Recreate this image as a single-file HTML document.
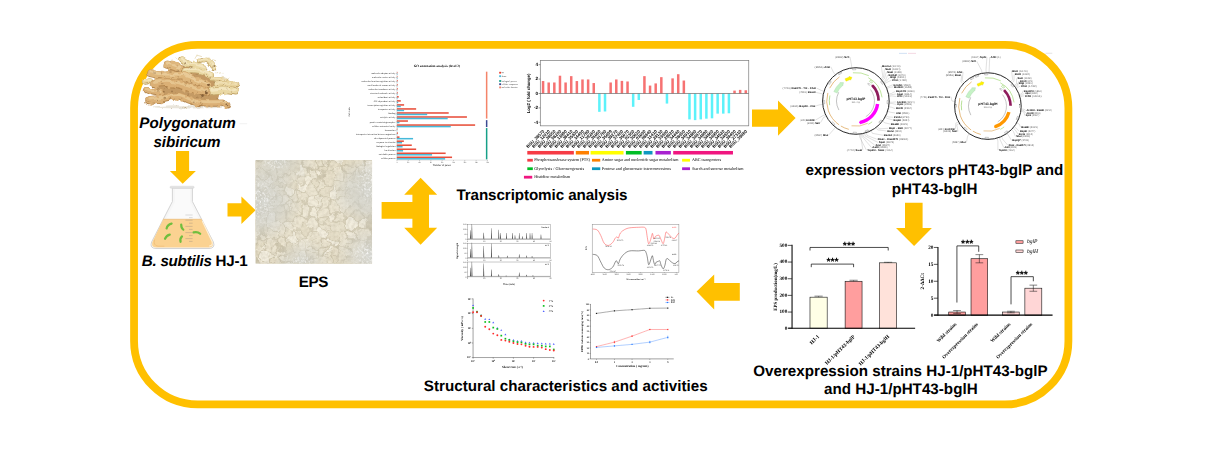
<!DOCTYPE html>
<html lang="en"><head><meta charset="utf-8"><title>Graphical abstract</title>
<style>
html,body{margin:0;padding:0;background:#fff;overflow:hidden}
svg{display:block}
.lb{font-family:"Liberation Sans",sans-serif;font-weight:bold;fill:#000}
.se{font-family:"Liberation Serif",serif;fill:#000}
.sa{font-family:"Liberation Sans",sans-serif;fill:#000}
</style></head>
<body>
<svg width="1217" height="468" viewBox="0 0 1217 468" text-rendering="geometricPrecision">
<!-- defs -->
<defs>
<filter id="b3" x="-5%" y="-5%" width="110%" height="110%"><feGaussianBlur stdDeviation="0.3"/></filter>
<filter id="b4" x="-5%" y="-5%" width="110%" height="110%"><feGaussianBlur stdDeviation="0.4"/></filter>
<filter id="b5" x="-5%" y="-5%" width="110%" height="110%"><feGaussianBlur stdDeviation="0.5"/></filter>
</defs>
<!-- frame -->
<rect x="134.05" y="44.85" width="934.35" height="359.55" rx="63.5" ry="63.5" fill="none" stroke="#FFC000" stroke-width="7.8"/>
<!-- arrows -->
<path d="M176 150.9H189.1V171H195.9L182.7 183.8L169.9 171H176Z" fill="#FFC000"/>
<path d="M227.5 203.2H241.4V196.5L255.6 210.3L241.4 224.1V216.6H227.5Z" fill="#FFC000"/>
<path d="M381.6 202H412.4V194.8H404.2L420.6 177.7L437.2 194.8H429V227.8H437.2L420.6 244.7L404.2 227.8H412.4V218.7H381.6Z" fill="#FFC000"/>
<path d="M752 109.4H778V100.6L795.6 118.1L778 135.8V126.7H752Z" fill="#FFC000"/>
<path d="M905 202.8H922.6V228H931.9L914.1 245.9L896 228H905Z" fill="#FFC000"/>
<path d="M739.8 283H714.2V274.4L696.6 291.5L714.2 309.5V300.8H739.8Z" fill="#FFC000"/>
<!-- labels -->
<text class="lb" font-style="italic" font-size="15.20" x="139.30" y="128.30" textLength="96.40" lengthAdjust="spacing">Polygonatum</text>
<text class="lb" font-style="italic" font-size="15.20" x="153.40" y="146.70" textLength="67.20" lengthAdjust="spacing">sibiricum</text>
<text class="lb" font-size="15.20" x="141.70" y="266.00" textLength="106.10" lengthAdjust="spacing"><tspan font-style="italic">B. subtilis</tspan> HJ-1</text>
<text class="lb" font-size="15.20" x="298.70" y="287.10" textLength="29.80" lengthAdjust="spacing">EPS</text>
<text class="lb" font-size="15.20" x="456.40" y="199.50" textLength="171.10" lengthAdjust="spacing">Transcriptomic analysis</text>
<text class="lb" font-size="15.20" x="805.50" y="175.30" textLength="257.80" lengthAdjust="spacing">expression vectors pHT43-bglP and</text>
<text class="lb" font-size="15.20" x="891.70" y="193.50" textLength="85.80" lengthAdjust="spacing">pHT43-bglH</text>
<text class="lb" font-size="15.20" x="753.20" y="376.20" textLength="294.50" lengthAdjust="spacing">Overexpression strains HJ-1/pHT43-bglP</text>
<text class="lb" font-size="15.20" x="824.00" y="394.30" textLength="153.60" lengthAdjust="spacing">and HJ-1/pHT43-bglH</text>
<text class="lb" font-size="15.20" x="423.80" y="390.60" textLength="283.80" lengthAdjust="spacing">Structural characteristics and activities</text>
<!-- rhizome -->
<defs>
<filter id="rzn" x="-5%" y="-5%" width="110%" height="110%" color-interpolation-filters="sRGB">
<feTurbulence type="fractalNoise" baseFrequency="0.3" numOctaves="3" seed="2" result="n"/>
<feColorMatrix in="n" type="matrix" values="0 0 0 0 0.52  0 0 0 0 0.37  0 0 0 0 0.2  3.0 0 0 0 -2.0" result="sp"/>
<feTurbulence type="fractalNoise" baseFrequency="0.09" numOctaves="2" seed="8" result="t"/><feDisplacementMap in="SourceGraphic" in2="t" scale="5" xChannelSelector="R" yChannelSelector="G" result="dm"/><feGaussianBlur in="dm" stdDeviation="0.7" result="bl"/>
<feComposite in="sp" in2="bl" operator="in" result="spc"/>
<feMerge><feMergeNode in="bl"/><feMergeNode in="spc"/></feMerge>
</filter>
</defs>
<g filter="url(#rzn)" stroke-linecap="round" stroke-linejoin="round" fill="none">
<ellipse cx="190.0" cy="106.8" rx="38" ry="1.6" fill="#E4DED2" opacity="0.8"/>
<path d="M155.4 77.6L168.2 71.2L178.4 66.1L193.8 66.1L206.6 71.2L214.3 80.2L219.4 90.4L216.9 100.7L191.3 100.7L172.0 96.8L155.4 93.0Z" fill="#C49A64" stroke="#C49A64" stroke-width="1"/>
<path d="M195.1 58.4L197.0 55.2" stroke="#DCCB9C" stroke-width="0.6"/>
<path d="M197.0 55.2L201.5 56.5" stroke="#DCCB9C" stroke-width="0.6"/>
<path d="M178.4 59.7L176.5 57.8" stroke="#DCCB9C" stroke-width="0.6"/>
<path d="M204.1 59.7L207.9 57.8" stroke="#DCCB9C" stroke-width="0.6"/>
<path d="M216.9 73.8L222.0 72.5" stroke="#DCCB9C" stroke-width="0.6"/>
<path d="M222.0 76.3L227.1 77.6" stroke="#DCCB9C" stroke-width="0.6"/>
<path d="M183.6 105.8L185.5 108.4" stroke="#DCCB9C" stroke-width="0.6"/>
<path d="M145.1 84.0L143.2 79.5" stroke="#DCCB9C" stroke-width="0.6"/>
<path d="M228.4 80.8L229.7 77.6" stroke="#DCCB9C" stroke-width="0.6"/>
<path d="M172.0 59.7L170.1 62.3" stroke="#DCCB9C" stroke-width="0.6"/>
<path d="M211.8 59.7L215.6 61.0" stroke="#DCCB9C" stroke-width="0.6"/>
<path d="M167.5 64.8C168.5 65.0 171.3 65.5 173.3 66.1C175.3 66.7 178.7 68.2 179.7 68.7" stroke="#B88A52" stroke-width="8.1"/>
<path d="M167.5 64.8C168.5 65.0 171.3 65.5 173.3 66.1C175.3 66.7 178.7 68.2 179.7 68.7" stroke="#DEB67C" stroke-width="7.2" transform="translate(0,-0.45)"/>
<path d="M167.5 64.8C168.5 65.0 171.3 65.5 173.3 66.1C175.3 66.7 178.7 68.2 179.7 68.7" stroke="#EBCF9E" stroke-width="3.1" transform="translate(0,-1.6)" stroke-opacity="0.8"/>
<circle cx="169.5" cy="68.5" r="1.8" fill="#DEB67C" stroke="none"/>
<circle cx="172.6" cy="62.4" r="1.8" fill="#DEB67C" stroke="none"/>
<circle cx="175.2" cy="63.3" r="1.8" fill="#DEB67C" stroke="none"/>
<circle cx="177.3" cy="64.6" r="1.8" fill="#DEB67C" stroke="none"/>
<path d="M182.3 59.9C183.1 60.5 185.3 62.6 187.4 63.5C189.5 64.5 192.3 64.7 195.1 65.5C197.9 66.2 202.6 67.6 204.1 68.0" stroke="#C2A468" stroke-width="6.9"/>
<path d="M182.3 59.9C183.1 60.5 185.3 62.6 187.4 63.5C189.5 64.5 192.3 64.7 195.1 65.5C197.9 66.2 202.6 67.6 204.1 68.0" stroke="#EAD8A4" stroke-width="6.0" transform="translate(0,-0.45)"/>
<path d="M182.3 59.9C183.1 60.5 185.3 62.6 187.4 63.5C189.5 64.5 192.3 64.7 195.1 65.5C197.9 66.2 202.6 67.6 204.1 68.0" stroke="#F5E9C4" stroke-width="2.6" transform="translate(0,-1.4)" stroke-opacity="0.8"/>
<circle cx="184.3" cy="63.7" r="1.5" fill="#EAD8A4" stroke="none"/>
<circle cx="186.2" cy="65.5" r="1.5" fill="#EAD8A4" stroke="none"/>
<circle cx="188.4" cy="61.1" r="1.5" fill="#EAD8A4" stroke="none"/>
<circle cx="193.0" cy="62.1" r="1.5" fill="#EAD8A4" stroke="none"/>
<circle cx="198.2" cy="63.2" r="1.5" fill="#EAD8A4" stroke="none"/>
<circle cx="201.1" cy="70.3" r="1.5" fill="#EAD8A4" stroke="none"/>
<path d="M198.9 61.2C200.2 61.0 204.5 59.3 206.6 59.9C208.7 60.5 210.3 63.1 211.5 64.8C212.7 66.5 213.6 69.1 214.1 69.9" stroke="#C2A468" stroke-width="4.1"/>
<path d="M198.9 61.2C200.2 61.0 204.5 59.3 206.6 59.9C208.7 60.5 210.3 63.1 211.5 64.8C212.7 66.5 213.6 69.1 214.1 69.9" stroke="#EAD8A4" stroke-width="3.2" transform="translate(0,-0.45)"/>
<path d="M198.9 61.2C200.2 61.0 204.5 59.3 206.6 59.9C208.7 60.5 210.3 63.1 211.5 64.8C212.7 66.5 213.6 69.1 214.1 69.9" stroke="#F5E9C4" stroke-width="1.5" transform="translate(0,-0.8)" stroke-opacity="0.8"/>
<circle cx="200.1" cy="59.2" r="0.9" fill="#EAD8A4" stroke="none"/>
<circle cx="204.0" cy="62.0" r="0.9" fill="#EAD8A4" stroke="none"/>
<circle cx="208.8" cy="59.5" r="0.9" fill="#EAD8A4" stroke="none"/>
<circle cx="209.7" cy="61.9" r="0.9" fill="#EAD8A4" stroke="none"/>
<circle cx="213.1" cy="64.4" r="0.9" fill="#EAD8A4" stroke="none"/>
<circle cx="214.2" cy="67.0" r="0.9" fill="#EAD8A4" stroke="none"/>
<path d="M186.1 71.2C187.6 71.2 192.1 70.9 195.1 71.2C198.1 71.5 201.3 72.3 204.1 73.1C206.8 74.0 210.5 75.8 211.8 76.3" stroke="#C2A468" stroke-width="6.3"/>
<path d="M186.1 71.2C187.6 71.2 192.1 70.9 195.1 71.2C198.1 71.5 201.3 72.3 204.1 73.1C206.8 74.0 210.5 75.8 211.8 76.3" stroke="#EAD8A4" stroke-width="5.4" transform="translate(0,-0.45)"/>
<path d="M186.1 71.2C187.6 71.2 192.1 70.9 195.1 71.2C198.1 71.5 201.3 72.3 204.1 73.1C206.8 74.0 210.5 75.8 211.8 76.3" stroke="#F5E9C4" stroke-width="2.4" transform="translate(0,-1.3)" stroke-opacity="0.8"/>
<circle cx="188.0" cy="73.8" r="1.4" fill="#EAD8A4" stroke="none"/>
<circle cx="192.9" cy="68.6" r="1.4" fill="#EAD8A4" stroke="none"/>
<circle cx="196.7" cy="69.1" r="1.4" fill="#EAD8A4" stroke="none"/>
<circle cx="202.8" cy="70.0" r="1.4" fill="#EAD8A4" stroke="none"/>
<circle cx="205.6" cy="76.6" r="1.4" fill="#EAD8A4" stroke="none"/>
<circle cx="209.7" cy="78.2" r="1.4" fill="#EAD8A4" stroke="none"/>
<path d="M210.5 78.9C212.0 79.0 216.7 79.3 219.4 79.5C222.2 79.8 225.9 80.3 227.1 80.4" stroke="#BE9E62" stroke-width="4.4"/>
<path d="M210.5 78.9C212.0 79.0 216.7 79.3 219.4 79.5C222.2 79.8 225.9 80.3 227.1 80.4" stroke="#E7D29C" stroke-width="3.5" transform="translate(0,-0.45)"/>
<path d="M210.5 78.9C212.0 79.0 216.7 79.3 219.4 79.5C222.2 79.8 225.9 80.3 227.1 80.4" stroke="#F2E2B8" stroke-width="1.7" transform="translate(0,-0.9)" stroke-opacity="0.8"/>
<circle cx="212.2" cy="77.2" r="1.0" fill="#E7D29C" stroke="none"/>
<circle cx="216.8" cy="81.2" r="1.0" fill="#E7D29C" stroke="none"/>
<circle cx="221.6" cy="77.9" r="1.0" fill="#E7D29C" stroke="none"/>
<circle cx="224.3" cy="82.1" r="1.0" fill="#E7D29C" stroke="none"/>
<path d="M216.9 84.0C218.6 83.9 223.9 83.3 227.1 83.5C230.4 83.7 234.8 85.0 236.4 85.3" stroke="#BE9E62" stroke-width="5.9"/>
<path d="M216.9 84.0C218.6 83.9 223.9 83.3 227.1 83.5C230.4 83.7 234.8 85.0 236.4 85.3" stroke="#E7D29C" stroke-width="5.0" transform="translate(0,-0.45)"/>
<path d="M216.9 84.0C218.6 83.9 223.9 83.3 227.1 83.5C230.4 83.7 234.8 85.0 236.4 85.3" stroke="#F2E2B8" stroke-width="2.3" transform="translate(0,-1.2)" stroke-opacity="0.8"/>
<circle cx="220.1" cy="86.4" r="1.3" fill="#E7D29C" stroke="none"/>
<circle cx="225.0" cy="86.1" r="1.3" fill="#E7D29C" stroke="none"/>
<circle cx="229.4" cy="81.5" r="1.3" fill="#E7D29C" stroke="none"/>
<circle cx="233.2" cy="82.4" r="1.3" fill="#E7D29C" stroke="none"/>
<path d="M145.4 82.2L150.5 81.0" stroke="#C2A468" stroke-width="5.0"/>
<path d="M145.4 82.2L150.5 81.0" stroke="#EAD8A4" stroke-width="4.1" transform="translate(0,-0.45)"/>
<path d="M145.4 82.2L150.5 81.0" stroke="#F5E9C4" stroke-width="1.9" transform="translate(0,-1.0)" stroke-opacity="0.8"/>
<circle cx="147.6" cy="79.8" r="1.1" fill="#EAD8A4" stroke="none"/>
<circle cx="149.9" cy="83.4" r="1.1" fill="#EAD8A4" stroke="none"/>
<path d="M150.0 73.3C151.5 73.6 155.5 74.7 159.2 75.1C162.9 75.5 168.2 75.6 172.0 75.7C175.9 75.8 179.1 75.3 182.3 75.8C185.5 76.4 188.3 77.8 191.3 78.9C194.2 80.1 197.6 81.7 200.2 82.8C202.8 83.8 205.8 84.9 206.9 85.3" stroke="#B88A52" stroke-width="7.5"/>
<path d="M150.0 73.3C151.5 73.6 155.5 74.7 159.2 75.1C162.9 75.5 168.2 75.6 172.0 75.7C175.9 75.8 179.1 75.3 182.3 75.8C185.5 76.4 188.3 77.8 191.3 78.9C194.2 80.1 197.6 81.7 200.2 82.8C202.8 83.8 205.8 84.9 206.9 85.3" stroke="#DEB67C" stroke-width="6.6" transform="translate(0,-0.45)"/>
<path d="M150.0 73.3C151.5 73.6 155.5 74.7 159.2 75.1C162.9 75.5 168.2 75.6 172.0 75.7C175.9 75.8 179.1 75.3 182.3 75.8C185.5 76.4 188.3 77.8 191.3 78.9C194.2 80.1 197.6 81.7 200.2 82.8C202.8 83.8 205.8 84.9 206.9 85.3" stroke="#EBCF9E" stroke-width="2.9" transform="translate(0,-1.5)" stroke-opacity="0.8"/>
<circle cx="152.4" cy="70.6" r="1.7" fill="#DEB67C" stroke="none"/>
<circle cx="156.6" cy="77.8" r="1.7" fill="#DEB67C" stroke="none"/>
<circle cx="162.3" cy="72.1" r="1.7" fill="#DEB67C" stroke="none"/>
<circle cx="169.1" cy="72.4" r="1.7" fill="#DEB67C" stroke="none"/>
<circle cx="173.8" cy="72.6" r="1.7" fill="#DEB67C" stroke="none"/>
<circle cx="180.6" cy="72.7" r="1.7" fill="#DEB67C" stroke="none"/>
<circle cx="184.2" cy="79.8" r="1.7" fill="#DEB67C" stroke="none"/>
<circle cx="189.8" cy="81.3" r="1.7" fill="#DEB67C" stroke="none"/>
<circle cx="194.0" cy="83.0" r="1.7" fill="#DEB67C" stroke="none"/>
<circle cx="198.2" cy="78.6" r="1.7" fill="#DEB67C" stroke="none"/>
<circle cx="202.6" cy="86.5" r="1.7" fill="#DEB67C" stroke="none"/>
<circle cx="205.1" cy="81.5" r="1.7" fill="#DEB67C" stroke="none"/>
<path d="M211.8 90.7C213.7 90.6 219.5 89.8 223.3 89.9C227.1 90.1 232.7 91.4 234.6 91.7" stroke="#C2A468" stroke-width="7.5"/>
<path d="M211.8 90.7C213.7 90.6 219.5 89.8 223.3 89.9C227.1 90.1 232.7 91.4 234.6 91.7" stroke="#EAD8A4" stroke-width="6.6" transform="translate(0,-0.45)"/>
<path d="M211.8 90.7C213.7 90.6 219.5 89.8 223.3 89.9C227.1 90.1 232.7 91.4 234.6 91.7" stroke="#F5E9C4" stroke-width="2.9" transform="translate(0,-1.5)" stroke-opacity="0.8"/>
<circle cx="214.1" cy="87.4" r="1.7" fill="#EAD8A4" stroke="none"/>
<circle cx="221.2" cy="93.3" r="1.7" fill="#EAD8A4" stroke="none"/>
<circle cx="225.7" cy="93.5" r="1.7" fill="#EAD8A4" stroke="none"/>
<circle cx="231.4" cy="88.1" r="1.7" fill="#EAD8A4" stroke="none"/>
<path d="M154.4 84.0C156.2 83.8 161.8 82.9 165.6 82.9C169.4 82.9 173.5 83.3 177.2 84.0C180.8 84.8 184.0 86.2 187.4 87.2C190.8 88.3 194.5 89.6 197.7 90.4C200.8 91.3 204.9 92.2 206.4 92.5" stroke="#B2844C" stroke-width="8.1"/>
<path d="M154.4 84.0C156.2 83.8 161.8 82.9 165.6 82.9C169.4 82.9 173.5 83.3 177.2 84.0C180.8 84.8 184.0 86.2 187.4 87.2C190.8 88.3 194.5 89.6 197.7 90.4C200.8 91.3 204.9 92.2 206.4 92.5" stroke="#DBB076" stroke-width="7.2" transform="translate(0,-0.45)"/>
<path d="M154.4 84.0C156.2 83.8 161.8 82.9 165.6 82.9C169.4 82.9 173.5 83.3 177.2 84.0C180.8 84.8 184.0 86.2 187.4 87.2C190.8 88.3 194.5 89.6 197.7 90.4C200.8 91.3 204.9 92.2 206.4 92.5" stroke="#E9CA96" stroke-width="3.1" transform="translate(0,-1.6)" stroke-opacity="0.8"/>
<circle cx="156.8" cy="87.2" r="1.8" fill="#DBB076" stroke="none"/>
<circle cx="163.1" cy="79.8" r="1.8" fill="#DBB076" stroke="none"/>
<circle cx="169.5" cy="86.6" r="1.8" fill="#DBB076" stroke="none"/>
<circle cx="174.7" cy="80.3" r="1.8" fill="#DBB076" stroke="none"/>
<circle cx="180.7" cy="81.4" r="1.8" fill="#DBB076" stroke="none"/>
<circle cx="183.9" cy="89.9" r="1.8" fill="#DBB076" stroke="none"/>
<circle cx="190.6" cy="91.5" r="1.8" fill="#DBB076" stroke="none"/>
<circle cx="195.4" cy="93.1" r="1.8" fill="#DBB076" stroke="none"/>
<circle cx="199.0" cy="87.5" r="1.8" fill="#DBB076" stroke="none"/>
<circle cx="204.8" cy="88.6" r="1.8" fill="#DBB076" stroke="none"/>
<path d="M146.2 90.4C147.3 90.8 150.4 91.9 152.8 92.4C155.2 92.8 159.2 92.9 160.5 93.0" stroke="#B2844C" stroke-width="6.6"/>
<path d="M146.2 90.4C147.3 90.8 150.4 91.9 152.8 92.4C155.2 92.8 159.2 92.9 160.5 93.0" stroke="#DBB076" stroke-width="5.7" transform="translate(0,-0.45)"/>
<path d="M146.2 90.4C147.3 90.8 150.4 91.9 152.8 92.4C155.2 92.8 159.2 92.9 160.5 93.0" stroke="#E9CA96" stroke-width="2.5" transform="translate(0,-1.3)" stroke-opacity="0.8"/>
<circle cx="148.5" cy="93.7" r="1.4" fill="#DBB076" stroke="none"/>
<circle cx="152.1" cy="89.1" r="1.4" fill="#DBB076" stroke="none"/>
<circle cx="155.0" cy="89.8" r="1.4" fill="#DBB076" stroke="none"/>
<circle cx="157.8" cy="95.6" r="1.4" fill="#DBB076" stroke="none"/>
<path d="M148.7 100.7C150.5 100.5 155.5 100.1 159.2 99.4C162.9 98.8 167.3 97.4 170.8 96.8C174.2 96.3 176.7 95.8 179.7 96.3C182.7 96.9 185.7 99.0 188.7 100.1C191.7 101.1 194.2 102.1 197.7 102.6C201.1 103.1 205.1 103.1 209.2 103.3C213.3 103.4 219.1 103.0 222.0 103.3C225.0 103.6 226.1 104.8 226.9 105.0" stroke="#B2844C" stroke-width="6.9"/>
<path d="M148.7 100.7C150.5 100.5 155.5 100.1 159.2 99.4C162.9 98.8 167.3 97.4 170.8 96.8C174.2 96.3 176.7 95.8 179.7 96.3C182.7 96.9 185.7 99.0 188.7 100.1C191.7 101.1 194.2 102.1 197.7 102.6C201.1 103.1 205.1 103.1 209.2 103.3C213.3 103.4 219.1 103.0 222.0 103.3C225.0 103.6 226.1 104.8 226.9 105.0" stroke="#DBB076" stroke-width="6.0" transform="translate(0,-0.45)"/>
<path d="M148.7 100.7C150.5 100.5 155.5 100.1 159.2 99.4C162.9 98.8 167.3 97.4 170.8 96.8C174.2 96.3 176.7 95.8 179.7 96.3C182.7 96.9 185.7 99.0 188.7 100.1C191.7 101.1 194.2 102.1 197.7 102.6C201.1 103.1 205.1 103.1 209.2 103.3C213.3 103.4 219.1 103.0 222.0 103.3C225.0 103.6 226.1 104.8 226.9 105.0" stroke="#E9CA96" stroke-width="2.6" transform="translate(0,-1.4)" stroke-opacity="0.8"/>
<circle cx="151.1" cy="103.3" r="1.5" fill="#DBB076" stroke="none"/>
<circle cx="157.3" cy="96.8" r="1.5" fill="#DBB076" stroke="none"/>
<circle cx="161.4" cy="101.7" r="1.5" fill="#DBB076" stroke="none"/>
<circle cx="168.8" cy="94.6" r="1.5" fill="#DBB076" stroke="none"/>
<circle cx="173.9" cy="99.6" r="1.5" fill="#DBB076" stroke="none"/>
<circle cx="177.4" cy="99.4" r="1.5" fill="#DBB076" stroke="none"/>
<circle cx="181.9" cy="100.2" r="1.5" fill="#DBB076" stroke="none"/>
<circle cx="185.7" cy="96.2" r="1.5" fill="#DBB076" stroke="none"/>
<circle cx="191.2" cy="97.8" r="1.5" fill="#DBB076" stroke="none"/>
<circle cx="196.2" cy="104.9" r="1.5" fill="#DBB076" stroke="none"/>
<circle cx="199.7" cy="99.9" r="1.5" fill="#DBB076" stroke="none"/>
<circle cx="206.3" cy="106.0" r="1.5" fill="#DBB076" stroke="none"/>
<circle cx="211.5" cy="106.1" r="1.5" fill="#DBB076" stroke="none"/>
<circle cx="219.2" cy="106.1" r="1.5" fill="#DBB076" stroke="none"/>
<circle cx="223.7" cy="100.8" r="1.5" fill="#DBB076" stroke="none"/>
<circle cx="225.8" cy="107.5" r="1.5" fill="#DBB076" stroke="none"/>
<circle cx="207.5" cy="85.7" r="1.4" fill="#6A4726" fill-opacity="0.8" stroke="none"/>
<circle cx="206.4" cy="93.0" r="1.4" fill="#6A4726" fill-opacity="0.8" stroke="none"/>
<circle cx="202.5" cy="96.6" r="1.3" fill="#6A4726" fill-opacity="0.7" stroke="none"/>
<circle cx="213.3" cy="67.1" r="1.0" fill="#6A4726" fill-opacity="0.6" stroke="none"/>
<circle cx="185.1" cy="62.5" r="0.9" fill="#6A4726" fill-opacity="0.5" stroke="none"/>
<circle cx="227.4" cy="105.3" r="1.0" fill="#6A4726" fill-opacity="0.6" stroke="none"/>
<circle cx="190.6" cy="68.7" r="0.9" fill="#6A4726" fill-opacity="0.45" stroke="none"/>
<circle cx="172.0" cy="90.4" r="0.9" fill="#6A4726" fill-opacity="0.4" stroke="none"/>
<circle cx="161.8" cy="84.7" r="0.6" fill="#6A4726" fill-opacity="0.4" stroke="none"/>
<circle cx="193.8" cy="101.3" r="0.8" fill="#6A4726" fill-opacity="0.4" stroke="none"/>
<circle cx="154.1" cy="73.1" r="0.8" fill="#6A4726" fill-opacity="0.4" stroke="none"/>
</g>
<rect x="239.6" y="123.3" width="7.6" height="0.9" fill="#EFEFEF"/>
<!-- flask -->
<g>
<path d="M172.4 188 L172.4 201.5 L151.6 242 Q149.3 248.4 156 248.5 L209 248.5 Q215.6 248.4 213.4 242 L192.4 201.5 L192.4 188 Z" fill="#F6F6F6" stroke="#CFCFCF" stroke-width="0.9" stroke-linejoin="round"/>
<path d="M175 189 L175 202 L166 219 L199 219 L190 202 L190 189 Z" fill="#FAFAFA"/>
<path d="M163.2 219.3 L201.6 219.3 L212.6 242.1 Q214.3 247.5 209 247.6 L156 247.6 Q150.7 247.5 152.4 242.1 Z" fill="#FBD291"/>
<path d="M163.2 219.3 L201.6 219.3" stroke="#EDBE78" stroke-width="0.8"/>
<path d="M202.5 221.5 L212 241.5 Q213.3 245.5 209.5 246" fill="none" stroke="#FFF0D6" stroke-width="1.1" stroke-linecap="round"/>
<path d="M154.5 240 Q153 245.5 158 246.2 L164 246.2" fill="none" stroke="#F2C27E" stroke-width="1" stroke-linecap="round"/>
<rect x="170" y="186.2" width="24.2" height="2.1" rx="1" fill="#E2E2E2" stroke="#D2D2D2" stroke-width="0.4"/>
<line x1="185.4" y1="215.0" x2="192.6" y2="215.0" stroke="#D2D2D2" stroke-width="0.8"/>
<line x1="189.0" y1="217.6" x2="192.6" y2="217.6" stroke="#D2D2D2" stroke-width="0.8"/>
<line x1="185.4" y1="220.2" x2="192.6" y2="220.2" stroke="#CDB088" stroke-width="0.8"/>
<line x1="189.0" y1="223.2" x2="192.6" y2="223.2" stroke="#CDB088" stroke-width="0.8"/>
<line x1="185.4" y1="226.4" x2="192.6" y2="226.4" stroke="#CDB088" stroke-width="0.8"/>
<line x1="189.0" y1="229.4" x2="192.6" y2="229.4" stroke="#CDB088" stroke-width="0.8"/>
<line x1="185.4" y1="232.6" x2="192.6" y2="232.6" stroke="#CDB088" stroke-width="0.8"/>
<line x1="189.0" y1="235.6" x2="192.6" y2="235.6" stroke="#CDB088" stroke-width="0.8"/>
<line x1="185.4" y1="238.6" x2="192.6" y2="238.6" stroke="#CDB088" stroke-width="0.8"/>
<line x1="189.0" y1="241.4" x2="192.6" y2="241.4" stroke="#CDB088" stroke-width="0.8"/>
<path d="M166.6 228.4 Q167.5 224.6 171.6 223.6" fill="none" stroke="#70BE3E" stroke-width="2.2" stroke-linecap="round"/>
<path d="M181.2 224.6 Q181.2 228.4 183.3 229.6" fill="none" stroke="#70BE3E" stroke-width="2.2" stroke-linecap="round"/>
<path d="M193.6 232.4 Q197.6 231.4 200.2 233.8" fill="none" stroke="#70BE3E" stroke-width="2.2" stroke-linecap="round"/>
<path d="M165 238.8 Q166.6 235.2 169.8 234.6" fill="none" stroke="#70BE3E" stroke-width="2.2" stroke-linecap="round"/>
<path d="M180.6 241.8 Q179.6 238.6 182 236.4" fill="none" stroke="#70BE3E" stroke-width="2.2" stroke-linecap="round"/>
</g>
<!-- eps -->
<defs>
<filter id="epsn" x="0" y="0" width="100%" height="100%" color-interpolation-filters="sRGB">
<feTurbulence type="fractalNoise" baseFrequency="0.35" numOctaves="2" seed="4" result="n"/>
<feColorMatrix in="n" type="matrix" values="0 0 0 0 0.45  0 0 0 0 0.40  0 0 0 0 0.30  1.6 0 0 0 -0.62"/>
</filter>
<filter id="epsn2" x="0" y="0" width="100%" height="100%" color-interpolation-filters="sRGB">
<feTurbulence type="fractalNoise" baseFrequency="0.45" numOctaves="2" seed="9" result="n"/>
<feColorMatrix in="n" type="matrix" values="0 0 0 0 1  0 0 0 0 1  0 0 0 0 1  3.4 0 0 0 -1.6"/>
</filter>
<filter id="epsb" x="-2%" y="-2%" width="104%" height="104%" color-interpolation-filters="sRGB"><feTurbulence type="fractalNoise" baseFrequency="0.12" numOctaves="2" seed="3" result="t"/><feDisplacementMap in="SourceGraphic" in2="t" scale="9" xChannelSelector="R" yChannelSelector="G" result="d"/><feGaussianBlur in="d" stdDeviation="0.5"/></filter>
<radialGradient id="epsL" cx="0" cy="0.42" r="0.4"><stop offset="0" stop-color="#CDCFCB" stop-opacity="0.8"/><stop offset="0.55" stop-color="#CDCFCB" stop-opacity="0.55"/><stop offset="1" stop-color="#CDCFCB" stop-opacity="0"/></radialGradient>
<radialGradient id="epsR" cx="1" cy="0.3" r="0.36"><stop offset="0" stop-color="#D0D2CE" stop-opacity="0.8"/><stop offset="0.55" stop-color="#D0D2CE" stop-opacity="0.55"/><stop offset="1" stop-color="#D0D2CE" stop-opacity="0"/></radialGradient>
<radialGradient id="epsB" cx="0.4" cy="1" r="0.25"><stop offset="0" stop-color="#CFD0CA" stop-opacity="0.8"/><stop offset="1" stop-color="#CFD0CA" stop-opacity="0"/></radialGradient>
<radialGradient id="epsT" cx="0.2" cy="0" r="0.3"><stop offset="0" stop-color="#CDCEC7" stop-opacity="0.8"/><stop offset="1" stop-color="#CDCEC7" stop-opacity="0"/></radialGradient>
<radialGradient id="epsBR" cx="1" cy="0.92" r="0.32"><stop offset="0" stop-color="#D4D6D3" stop-opacity="0.9"/><stop offset="1" stop-color="#D4D6D3" stop-opacity="0"/></radialGradient>
<radialGradient id="epsC" cx="0.5" cy="0.5" r="0.55"><stop offset="0" stop-color="#EFEAD9" stop-opacity="0.25"/><stop offset="0.6" stop-color="#EFEAD9" stop-opacity="0.15"/><stop offset="1" stop-color="#EFEAD9" stop-opacity="0"/></radialGradient>
<radialGradient id="epsW"><stop offset="0" stop-color="#fff"/><stop offset="0.5" stop-color="#999"/><stop offset="1" stop-color="#000"/></radialGradient>
<clipPath id="epsc"><rect x="255.4" y="159.9" width="116.7" height="103.9"/></clipPath>
</defs>
<g clip-path="url(#epsc)">
<rect x="255.4" y="159.9" width="116.7" height="103.9" fill="#D0C8B0"/>
<g filter="url(#epsb)">
<path d="M275.1 192.6L276.0 192.7L279.7 197.2L276.3 199.0L275.0 197.6Z" fill="#E4DCC5"/>
<path d="M364.1 175.7L367.5 171.9L369.1 173.1L365.2 182.0Z" fill="#EEE8D6"/>
<path d="M276.5 256.6L276.1 253.4L268.9 252.0L267.8 252.4L269.5 259.1Z" fill="#EEE8D6"/>
<path d="M317.7 223.3L316.7 220.6L309.3 219.1L306.1 219.5L305.4 221.3L309.9 229.5L313.4 231.0L317.4 230.8L318.2 227.1Z" fill="#EEE8D6"/>
<path d="M328.1 265.7L328.8 266.5L331.9 264.6L331.0 257.8L331.0 257.5L327.0 257.5Z" fill="#EAE3CF"/>
<path d="M346.0 228.7L351.9 230.7L357.3 239.4L350.3 240.0L344.7 229.9Z" fill="#F1EBDA"/>
<path d="M313.3 179.9L317.2 178.7L317.6 178.2L316.9 187.3L312.8 181.4Z" fill="#E7DFC9"/>
<path d="M266.9 220.3L269.5 215.9L273.6 212.9L274.4 213.3L276.7 219.0L267.5 221.3Z" fill="#F3EEDF"/>
<path d="M257.1 240.6L261.0 232.2L259.9 231.8L253.8 233.6L251.4 237.7L251.5 238.9L256.9 240.7Z" fill="#EEE8D6"/>
<path d="M339.9 250.0L348.0 255.6L349.0 255.4L349.9 250.4L345.9 246.2L340.5 245.4L339.8 247.8Z" fill="#EAE3CF"/>
<path d="M309.6 176.2L308.5 170.8L305.1 166.4L304.7 176.7L305.7 176.7Z" fill="#ECE5D1"/>
<path d="M268.2 229.4L266.2 234.1L262.3 231.7L261.8 231.0L261.1 228.8L265.6 224.3L268.2 226.5Z" fill="#E4DCC5"/>
<path d="M285.5 184.8L285.7 184.6L286.4 184.1L284.5 177.2L280.2 175.3L278.2 179.7L279.1 180.2Z" fill="#EEE8D6"/>
<path d="M296.7 189.5L297.0 189.7L306.1 191.3L306.4 186.6L304.9 184.3L296.4 183.3Z" fill="#F3EEDF"/>
<path d="M284.2 204.9L282.7 203.4L282.9 198.5L286.9 195.9L288.1 196.1L290.8 199.2L287.1 202.8Z" fill="#F1EBDA"/>
<path d="M332.1 221.2L330.8 222.7L327.7 218.1L327.3 217.3L332.6 213.9L334.8 213.6Z" fill="#F1EBDA"/>
<path d="M330.1 225.8L326.7 224.1L328.0 218.9L330.6 223.1Z" fill="#E7DFC9"/>
<path d="M282.3 263.7L287.9 259.6L287.1 254.2L287.1 254.3L279.4 257.4L279.9 258.6Z" fill="#EEE8D6"/>
<path d="M285.0 236.5L278.1 236.2L278.3 230.6L278.5 227.3L280.9 223.5L283.2 223.4L284.8 226.1Z" fill="#EBE4D0"/>
<path d="M284.7 210.2L275.5 212.0L274.9 211.7L272.8 208.0L274.7 206.6L281.3 204.7L283.3 206.3Z" fill="#E7DFC9"/>
<path d="M286.1 187.1L286.1 186.3L294.9 189.4L288.3 194.6L287.7 194.1L285.3 190.5L285.3 189.4Z" fill="#F3EEDF"/>
<path d="M265.1 196.3L261.9 197.9L261.4 196.8L261.5 190.0L267.5 189.2L267.4 195.0Z" fill="#E4DCC5"/>
<path d="M268.9 238.2L267.4 239.2L267.5 240.2L265.7 251.3L267.9 252.0L268.8 251.5L275.2 243.6L274.3 239.4Z" fill="#EBE4D0"/>
<path d="M373.8 169.9L375.1 164.9L377.7 164.8L378.9 169.1Z" fill="#EBE4D0"/>
<path d="M268.3 176.2L274.1 180.6L276.5 178.1L278.1 174.8L276.8 169.1L268.7 172.6Z" fill="#EBE4D0"/>
<path d="M249.0 228.7L252.4 233.0L250.7 236.7L246.2 234.9L248.9 229.2Z" fill="#EAE3CF"/>
<path d="M271.5 195.9L274.0 191.3L275.0 192.4L274.0 197.9L271.3 197.8Z" fill="#F3EEDF"/>
<path d="M342.5 170.4L340.6 166.6L334.5 172.7L335.4 179.9L342.0 179.9Z" fill="#ECE5D1"/>
<path d="M350.1 192.0L348.8 190.5L352.6 189.1L354.4 190.2L352.3 193.3Z" fill="#EBE4D0"/>
<path d="M322.5 208.0L327.9 207.1L328.7 200.3L328.0 199.1L323.5 198.0L322.1 207.0Z" fill="#ECE5D1"/>
<path d="M310.4 207.0L308.2 199.0L310.5 196.5L314.3 195.5L318.2 205.9L314.9 207.5Z" fill="#F1EBDA"/>
<path d="M340.1 211.9L336.8 200.6L330.5 201.6L328.6 207.8L333.0 212.2L335.6 212.2Z" fill="#EAE3CF"/>
<path d="M284.6 186.3L278.7 181.2L280.9 186.8L283.9 188.0Z" fill="#E7DFC9"/>
<path d="M353.4 160.0L355.6 167.6L356.5 167.7L356.7 167.3L362.5 164.9L360.4 158.5L352.8 156.2Z" fill="#E7DFC9"/>
<path d="M369.4 260.9L373.2 252.9L373.5 253.5L375.5 254.6L377.2 260.9L372.7 263.3Z" fill="#F1EBDA"/>
<path d="M307.9 257.8L314.3 258.8L316.3 257.8L317.2 255.7L316.9 254.7L306.4 250.4L305.9 250.7L307.2 256.3Z" fill="#ECE5D1"/>
<path d="M299.5 200.8L298.7 191.4L305.3 192.5L309.4 196.5L307.3 198.8L302.4 200.5Z" fill="#EBE4D0"/>
<path d="M357.0 266.0L360.5 267.9L362.6 259.2L362.2 256.5L351.8 256.7L353.2 263.0Z" fill="#EAE3CF"/>
<path d="M321.1 206.1L318.6 204.4L315.6 196.6L317.8 194.8L322.3 197.8Z" fill="#EEE8D6"/>
<path d="M353.3 262.8L352.0 258.2L350.4 257.5L349.2 257.7L345.1 262.0L344.9 267.6L351.0 266.5Z" fill="#E4DCC5"/>
<path d="M261.6 208.5L263.7 206.8L261.0 198.7L260.4 197.9L257.8 198.3L253.2 201.3L249.8 206.6L258.1 211.6Z" fill="#E4DCC5"/>
<path d="M265.8 220.8L258.9 214.5L254.0 221.2L260.3 228.6L259.9 229.0L266.3 222.4L266.0 221.8Z" fill="#EAE3CF"/>
<path d="M276.6 192.5L280.5 197.5L282.4 197.5L286.7 195.3L284.0 190.7Z" fill="#E7DFC9"/>
<path d="M376.0 200.7L376.9 200.4L377.8 197.3L378.6 194.4L376.3 192.5L372.9 195.2L371.4 198.4L372.7 198.9Z" fill="#EEE8D6"/>
<path d="M329.3 199.1L336.8 198.2L337.4 197.9L336.6 191.1L332.4 185.9L332.9 186.2L328.6 198.5Z" fill="#F3EEDF"/>
<path d="M360.2 177.8L360.9 184.6L354.6 182.2L356.4 176.8Z" fill="#E4DCC5"/>
<path d="M337.1 245.9L339.1 244.4L338.5 242.6L328.1 238.4L327.7 239.2L330.1 245.9L331.9 246.7Z" fill="#F3EEDF"/>
<path d="M368.7 261.7L362.7 258.7L362.5 256.8L365.4 248.8L372.7 252.0Z" fill="#E7DFC9"/>
<path d="M358.4 219.2L350.1 216.7L360.1 211.3L361.1 212.0L362.2 217.4Z" fill="#E4DCC5"/>
<path d="M289.7 157.2L287.8 159.7L287.0 161.8L289.1 163.1L300.0 164.8L302.4 163.0L303.9 158.9Z" fill="#E7DFC9"/>
<path d="M318.0 166.1L312.4 156.0L321.4 158.9L323.3 165.9Z" fill="#E8E1CC"/>
<path d="M360.5 185.1L360.8 185.1L360.7 187.7L354.9 188.8L353.3 188.1L353.3 182.5L354.6 183.2Z" fill="#EBE4D0"/>
<path d="M251.5 177.2L250.6 183.6L253.4 187.7L256.6 186.0Z" fill="#EEE8D6"/>
<path d="M294.7 203.2L291.5 210.3L299.1 214.3Z" fill="#EBE4D0"/>
<path d="M277.8 180.7L277.2 179.3L274.3 181.3L272.2 187.1L272.6 187.0L280.0 187.0Z" fill="#E4DCC5"/>
<path d="M356.6 265.8L352.3 267.3L351.4 267.8L353.9 263.9Z" fill="#EEE8D6"/>
<path d="M340.1 230.9L338.6 241.0L327.3 237.3L330.2 232.3L331.8 230.9Z" fill="#E4DCC5"/>
<path d="M316.9 166.7L311.1 156.8L309.2 155.4L306.2 159.6L304.9 163.7L305.9 164.7L310.0 169.3L314.9 168.6L315.6 169.2Z" fill="#EBE4D0"/>
<path d="M318.2 255.7L322.6 255.8L323.9 256.2L326.7 257.0L326.9 266.4L323.6 266.2L316.7 258.4Z" fill="#EBE4D0"/>
<path d="M373.1 208.4L372.7 207.7L372.1 200.0L375.7 202.5L374.1 207.2L372.7 208.4Z" fill="#EBE4D0"/>
<path d="M265.7 235.8L262.1 233.6L259.3 240.0L262.3 240.2L267.3 238.4L267.8 237.8Z" fill="#EBE4D0"/>
<path d="M361.2 240.8L360.5 239.5L353.6 230.8L360.0 227.9L365.2 227.1L371.5 234.4L363.8 241.2Z" fill="#EAE3CF"/>
<path d="M292.5 243.0L288.7 242.6L287.1 250.8L287.5 253.0L288.4 252.3L291.4 251.8L293.7 247.8Z" fill="#E4DCC5"/>
<path d="M260.7 246.8L260.6 246.6L265.0 251.5L260.9 254.1L254.8 248.8L257.8 246.1Z" fill="#EAE3CF"/>
<path d="M294.8 203.0L299.5 212.6L299.8 213.8L301.7 202.3L298.7 201.9L294.8 202.7Z" fill="#EAE3CF"/>
<path d="M318.2 217.7L318.5 212.6L314.6 208.7L311.3 208.4L309.8 217.8L316.4 218.5Z" fill="#F1EBDA"/>
<path d="M375.4 163.7L371.7 160.2L376.8 156.9L383.9 160.2L377.9 164.5Z" fill="#E7DFC9"/>
<path d="M294.4 200.4L291.5 198.7L289.6 195.4L295.4 191.2L296.7 190.7L297.0 190.8L297.8 200.2Z" fill="#EAE3CF"/>
<path d="M360.5 178.7L360.8 177.1L363.6 176.3L364.4 183.0L363.9 184.0L362.5 184.6L361.3 184.3Z" fill="#E7DFC9"/>
<path d="M258.1 241.3L261.6 240.7L260.7 246.4L258.3 245.9L257.1 241.7Z" fill="#E7DFC9"/>
<path d="M306.4 249.3L306.2 249.0L311.5 246.2L311.0 246.1L316.9 251.2L316.8 253.8Z" fill="#EEE8D6"/>
<path d="M362.4 165.5L363.1 165.7L366.5 170.5L362.8 173.8L361.4 174.7L358.3 168.2Z" fill="#E7DFC9"/>
<path d="M312.1 245.1L316.9 250.6L319.9 246.4L318.9 242.5L314.4 244.0Z" fill="#E8E1CC"/>
<path d="M299.2 228.6L305.5 221.6L309.2 229.9L306.3 235.0Z" fill="#E4DCC5"/>
<path d="M360.5 269.0L360.5 269.7L353.3 273.1L353.1 268.9Z" fill="#F3EEDF"/>
<path d="M320.7 242.9L320.8 245.5L328.4 246.2L328.7 246.3L326.5 239.7L321.0 240.5Z" fill="#ECE5D1"/>
<path d="M306.1 257.2L297.8 256.0L296.4 253.6L299.9 250.9L304.4 250.3Z" fill="#F3EEDF"/>
<path d="M355.5 176.8L353.7 173.5L352.7 175.7L350.4 180.0L352.3 180.5L353.5 181.5Z" fill="#E4DCC5"/>
<path d="M251.8 191.7L257.3 197.9L252.4 200.3L248.9 192.2Z" fill="#ECE5D1"/>
<path d="M277.5 230.9L277.1 237.0L275.1 239.1L268.9 237.8L266.9 234.8L269.0 230.0Z" fill="#ECE5D1"/>
<path d="M311.9 178.8L310.0 176.9L305.9 178.2L304.6 183.6L306.8 185.6L311.9 181.9Z" fill="#F1EBDA"/>
<path d="M339.2 250.1L348.6 257.0L343.9 261.5L339.8 259.9L337.4 256.1Z" fill="#E7DFC9"/>
<path d="M286.5 185.6L295.7 189.4L296.2 188.6L296.1 182.9L295.6 183.0L294.0 182.0L287.5 184.3Z" fill="#E4DCC5"/>
<path d="M298.7 240.7L293.1 243.0L294.5 247.8L298.2 243.5L299.6 240.0Z" fill="#EAE3CF"/>
<path d="M372.3 194.3L366.7 186.1L377.4 184.1L376.4 191.2Z" fill="#EBE4D0"/>
<path d="M372.8 209.3L371.9 212.4L372.2 215.9L377.1 212.2L373.0 209.4Z" fill="#E4DCC5"/>
<path d="M306.0 258.0L301.8 263.5L298.9 258.8L298.6 256.6L305.5 256.9Z" fill="#EEE8D6"/>
<path d="M372.4 209.0L371.2 212.8L361.3 210.4L360.9 210.2L361.6 207.5L364.3 205.1L371.8 209.0Z" fill="#EBE4D0"/>
<path d="M293.1 233.1L295.7 232.6L297.3 229.5L289.0 221.5L285.9 221.0L283.3 222.6L286.0 226.4Z" fill="#EEE8D6"/>
<path d="M258.8 188.0L260.1 189.9L259.7 196.8L257.3 196.3L253.3 190.4L254.8 189.0L257.5 188.3Z" fill="#F1EBDA"/>
<path d="M321.3 208.5L319.5 211.5L315.5 207.4L319.0 206.5L321.2 207.5Z" fill="#EEE8D6"/>
<path d="M334.7 153.6L333.4 160.2L341.1 165.2L342.1 164.3L342.6 159.8L343.2 155.8L339.6 148.7Z" fill="#F3EEDF"/>
<path d="M370.5 213.3L362.3 211.8L364.8 217.6L366.3 218.5L371.2 215.7L371.5 215.8Z" fill="#E4DCC5"/>
<path d="M376.9 201.6L377.2 201.4L385.4 204.2L378.3 207.6L375.3 208.0Z" fill="#E7DFC9"/>
<path d="M348.4 181.9L349.1 180.9L351.6 181.7L352.8 188.1L348.3 189.8L346.2 189.1L345.8 187.8L346.0 182.4Z" fill="#EEE8D6"/>
<path d="M342.7 166.0L342.8 166.5L344.4 169.6L346.0 171.3L351.6 173.8L353.0 171.8L354.5 167.7L354.3 167.1L342.9 165.9Z" fill="#E7DFC9"/>
<path d="M338.6 197.3L338.0 191.2L345.5 189.3L345.6 190.6L343.0 196.4Z" fill="#EAE3CF"/>
<path d="M346.5 181.9L345.9 188.0L336.6 190.2L332.3 185.2L335.2 181.1L342.7 180.6Z" fill="#E8E1CC"/>
<path d="M352.0 198.3L353.6 195.9L352.9 194.5L350.3 192.9L348.3 198.2Z" fill="#E4DCC5"/>
<path d="M300.4 267.0L291.9 263.7L291.1 262.2L298.1 259.0L301.4 264.5Z" fill="#E4DCC5"/>
<path d="M276.4 199.7L279.7 198.4L281.8 199.3L281.3 203.6L275.1 205.9Z" fill="#EEE8D6"/>
<path d="M278.4 259.4L277.8 257.9L276.8 257.4L270.0 259.9L269.9 261.9L276.2 262.2Z" fill="#E7DFC9"/>
<path d="M289.5 221.2L297.9 228.8L299.4 228.2L304.3 221.3L305.3 220.1L300.9 215.7Z" fill="#EBE4D0"/>
<path d="M254.7 172.8L251.5 173.5L244.1 171.2L255.0 159.6L260.1 161.2L259.9 168.5Z" fill="#E7DFC9"/>
<path d="M311.3 245.0L305.9 248.7L302.1 240.7L307.7 238.6L308.8 238.3Z" fill="#F1EBDA"/>
<path d="M345.9 223.7L345.9 226.8L352.4 229.3L358.0 225.9L357.3 220.8L348.3 217.7L346.1 218.6Z" fill="#F3EEDF"/>
<path d="M285.7 212.8L284.6 211.5L276.9 213.5L279.1 218.9L281.2 221.6L283.2 221.5L284.8 219.8Z" fill="#E7DFC9"/>
<path d="M257.0 242.0L251.0 239.6L248.4 244.2L251.6 248.7L254.7 248.7L257.9 245.7Z" fill="#E4DCC5"/>
<path d="M286.9 252.8L286.3 251.8L278.6 248.2L276.2 252.8L277.5 256.8L278.9 256.5Z" fill="#ECE5D1"/>
<path d="M255.1 249.1L260.6 254.0L258.8 257.6L256.9 257.7L253.5 257.8L250.5 254.4L252.0 249.4Z" fill="#E4DCC5"/>
<path d="M352.9 193.3L354.5 190.2L361.0 188.1L361.0 193.2L358.5 195.4L353.8 195.9Z" fill="#E4DCC5"/>
<path d="M265.0 196.9L270.1 199.3L270.7 197.6L270.9 196.8L267.3 194.9Z" fill="#E7DFC9"/>
<path d="M278.3 227.2L281.1 222.6L278.2 219.6L266.1 221.8L266.6 222.9L269.4 226.6Z" fill="#F1EBDA"/>
<path d="M361.9 257.1L352.2 256.8L350.1 256.2L350.8 250.3L360.8 241.7L363.7 242.1L364.7 248.2Z" fill="#ECE5D1"/>
<path d="M325.5 223.2L319.5 222.8L317.9 220.0L319.8 218.8L326.4 217.4L326.7 218.6Z" fill="#E8E1CC"/>
<path d="M371.6 198.9L370.5 198.6L367.8 199.3L365.1 204.9L371.7 207.6Z" fill="#ECE5D1"/>
<path d="M259.3 231.4L254.1 232.9L249.9 228.0L258.9 228.4L259.5 228.8Z" fill="#ECE5D1"/>
<path d="M317.9 254.8L321.7 253.9L327.0 247.8L319.9 247.6L318.4 250.8L318.3 253.4Z" fill="#EAE3CF"/>
<path d="M286.8 237.2L292.9 233.5L286.0 227.4L286.1 236.5Z" fill="#E8E1CC"/>
<path d="M359.8 177.7L360.4 176.9L356.5 167.6L356.5 167.7L353.9 172.7L357.0 176.9Z" fill="#E8E1CC"/>
<path d="M257.4 258.3L261.9 270.7L266.2 264.3L259.1 257.9Z" fill="#F1EBDA"/>
<path d="M326.8 215.9L331.7 213.0L327.5 208.4L322.1 208.4L320.2 212.8L319.3 216.9Z" fill="#ECE5D1"/>
<path d="M309.2 237.8L311.9 232.9L309.6 231.5L307.0 234.7L308.6 238.0L308.5 237.5Z" fill="#EAE3CF"/>
<path d="M332.5 257.3L332.7 265.0L332.5 265.1L338.3 260.0L337.2 256.5Z" fill="#E4DCC5"/>
<path d="M286.1 159.0L286.2 161.7L277.7 166.6L268.4 154.5L270.5 148.4L286.0 159.8Z" fill="#ECE5D1"/>
<path d="M323.8 173.9L321.8 176.7L318.8 176.8L318.1 176.1L316.8 170.7L316.8 170.1Z" fill="#F1EBDA"/>
<path d="M364.0 186.2L366.2 186.1L371.8 194.5L370.5 197.5L367.7 198.4L362.3 192.9L361.7 188.5L362.5 186.3Z" fill="#EEE8D6"/>
<path d="M306.4 259.6L303.0 264.4L302.1 267.1L303.7 269.4L311.6 264.0L313.1 259.6Z" fill="#E4DCC5"/>
<path d="M297.3 182.5L304.1 183.4L305.2 178.0L304.3 177.7L299.6 177.2L297.2 181.9Z" fill="#EAE3CF"/>
<path d="M332.5 160.8L331.5 160.8L329.3 163.1L326.6 167.6L328.2 170.0L334.0 171.3L340.8 166.1L340.6 165.2Z" fill="#E7DFC9"/>
<path d="M317.1 258.4L322.9 265.7L317.6 273.4L313.1 264.4L315.2 259.1Z" fill="#ECE5D1"/>
<path d="M373.2 209.4L377.3 212.4L378.4 212.2L378.3 208.5L374.7 208.2Z" fill="#EBE4D0"/>
<path d="M346.4 216.6L348.8 216.5L359.6 210.1L359.7 207.8L357.2 206.2L352.9 204.4L348.0 208.7L346.6 210.4L344.0 213.5Z" fill="#E7DFC9"/>
<path d="M309.5 238.3L312.8 232.6L317.2 231.8L318.0 237.5L315.5 237.9Z" fill="#EAE3CF"/>
<path d="M277.8 247.2L275.5 253.0L269.7 251.2L275.3 244.1Z" fill="#EAE3CF"/>
<path d="M331.8 185.5L332.6 184.5L334.8 181.1L333.4 172.2L327.9 170.6L325.5 173.5L322.8 177.9L326.6 184.7Z" fill="#E7DFC9"/>
<path d="M347.8 181.4L349.3 181.2L351.9 174.5L345.8 172.6Z" fill="#EAE3CF"/>
<path d="M347.3 206.8L353.5 203.2L351.7 199.1L348.2 198.3L347.6 198.6Z" fill="#EBE4D0"/>
<path d="M280.3 267.1L279.1 271.3L268.5 263.4L269.9 262.4L275.8 263.4Z" fill="#EBE4D0"/>
<path d="M304.6 177.4L299.7 176.7L297.9 172.4L300.5 165.0L303.3 163.5L304.6 165.4Z" fill="#F3EEDF"/>
<path d="M299.5 239.3L296.7 233.4L298.4 231.5L299.8 230.7L305.1 234.9L306.9 237.8L301.8 240.0L299.6 239.4Z" fill="#EAE3CF"/>
<path d="M293.7 203.1L290.6 208.9L290.0 208.7L288.8 203.8L291.0 200.6L293.6 202.8Z" fill="#EEE8D6"/>
<path d="M297.6 256.0L298.4 258.9L290.9 262.2L288.4 260.2L287.8 253.0L291.2 252.2L295.6 252.9Z" fill="#E7DFC9"/>
<path d="M312.0 182.1L316.7 188.9L317.9 193.2L318.1 193.7L314.2 195.6L310.4 196.5L306.0 192.0L306.6 186.5Z" fill="#EAE3CF"/>
<path d="M325.0 185.5L321.2 179.4L319.4 179.4L317.4 188.7L318.8 191.8Z" fill="#ECE5D1"/>
<path d="M268.7 261.5L269.0 259.2L267.9 253.1L266.0 252.1L265.1 252.4L261.8 254.3L259.9 257.3L266.4 263.7L267.8 263.3Z" fill="#F3EEDF"/>
<path d="M286.2 162.4L288.5 163.6L289.8 172.5L288.3 174.2L284.4 175.0L279.7 173.9L277.9 168.3L278.2 167.8Z" fill="#ECE5D1"/>
<path d="M261.5 180.8L259.1 186.5L261.5 189.1L268.3 188.1L270.0 187.4L264.3 180.0Z" fill="#F1EBDA"/>
<path d="M286.7 184.2L285.0 176.8L289.2 175.5L294.1 181.5Z" fill="#EAE3CF"/>
<path d="M344.3 262.0L339.6 260.1L332.9 265.3L343.4 269.7L344.5 268.2Z" fill="#E4DCC5"/>
<path d="M327.0 156.2L330.3 159.9L328.7 161.7L325.2 157.8Z" fill="#ECE5D1"/>
<path d="M328.8 232.6L326.7 237.4L326.6 238.3L320.0 238.8L317.9 237.4L317.5 231.1L319.2 227.9Z" fill="#F3EEDF"/>
<path d="M326.4 170.4L326.2 167.8L323.9 167.4L318.8 166.9L317.3 169.7L324.3 172.5Z" fill="#E4DCC5"/>
<path d="M343.9 222.6L333.5 221.1L336.4 214.2L340.7 213.7L342.6 214.6L344.5 218.1Z" fill="#EAE3CF"/>
<path d="M342.5 214.7L346.1 209.4L345.8 197.6L343.6 197.0L338.6 198.4L338.1 198.8L341.2 212.7Z" fill="#EEE8D6"/>
<path d="M329.4 227.0L331.5 230.7L329.4 231.3L320.2 227.8L318.9 224.2L326.5 224.8Z" fill="#EAE3CF"/>
<path d="M323.0 196.1L318.9 193.5L319.5 193.2L326.0 186.3L331.0 186.6L328.1 198.6Z" fill="#E7DFC9"/>
<path d="M294.9 181.3L289.0 175.4L290.7 173.5L298.0 172.8L298.7 176.9L296.5 181.7Z" fill="#EAE3CF"/>
<path d="M327.0 257.3L330.1 256.0L330.0 252.3L324.7 255.8Z" fill="#EAE3CF"/>
<path d="M288.5 210.1L288.0 205.0L284.2 206.5L285.3 209.0L287.2 210.4Z" fill="#ECE5D1"/>
<path d="M275.0 191.5L276.2 191.6L284.4 189.8L283.5 188.6L280.4 188.0L272.9 187.7L274.7 190.5Z" fill="#EBE4D0"/>
<path d="M287.6 237.3L288.7 241.4L293.2 242.3L298.3 239.6L295.3 233.1L293.2 233.9Z" fill="#F3EEDF"/>
<path d="M269.1 215.2L262.9 209.4L265.2 208.1L269.4 206.9L272.3 208.6L273.3 212.2Z" fill="#E8E1CC"/>
<path d="M249.0 228.4L259.4 228.9L254.4 220.3L245.9 223.3L248.7 227.4Z" fill="#EAE3CF"/>
<path d="M286.3 239.0L287.5 242.1L286.2 248.9L279.6 246.5L276.4 242.6L276.3 240.4L278.7 238.2L284.8 238.1Z" fill="#EAE3CF"/>
<path d="M288.5 163.6L290.9 173.4L298.1 171.7L300.4 165.2Z" fill="#E4DCC5"/>
<path d="M324.3 158.0L322.7 158.7L324.9 165.6L326.1 166.8L328.3 163.1Z" fill="#EBE4D0"/>
<path d="M352.2 249.5L347.6 244.7L351.2 242.6L358.3 241.8L359.5 241.5Z" fill="#E7DFC9"/>
<path d="M334.7 152.4L327.1 154.7L326.0 155.4L331.1 160.3L332.2 159.4Z" fill="#F1EBDA"/>
<path d="M265.4 198.0L261.3 198.4L264.0 205.9L269.7 205.8L270.0 200.1Z" fill="#F3EEDF"/>
<path d="M347.8 180.1L345.2 173.1L343.8 171.3L343.5 180.0L346.5 181.2Z" fill="#E7DFC9"/>
<path d="M312.3 178.7L317.3 177.3L315.4 170.6L309.9 171.2L309.9 176.9Z" fill="#EEE8D6"/>
<path d="M338.3 249.9L337.1 255.6L332.0 256.0L331.2 255.7L331.4 251.8L332.0 247.7L337.5 247.6Z" fill="#E7DFC9"/>
<path d="M313.4 243.7L319.0 242.5L319.7 239.8L318.3 237.3L315.6 238.3Z" fill="#E8E1CC"/>
<path d="M266.9 176.8L273.8 181.2L271.0 186.3L270.6 186.7L265.0 180.5Z" fill="#F3EEDF"/>
<path d="M344.9 223.9L344.6 227.3L343.0 229.0L340.6 230.4L332.5 230.4L330.5 226.9L330.1 223.6L332.0 222.4Z" fill="#E8E1CC"/>
<path d="M342.1 164.6L356.1 166.7L353.4 160.8L342.9 160.2Z" fill="#E4DCC5"/>
<path d="M267.6 194.2L268.9 187.9L271.2 187.3L271.8 187.3L272.5 188.2L274.2 190.9L270.9 196.3Z" fill="#EEE8D6"/>
<path d="M261.6 241.5L267.4 239.3L266.9 239.5L261.1 246.7L260.7 246.1Z" fill="#E4DCC5"/>
<path d="M373.8 169.3L370.5 172.4L369.7 172.5L368.0 170.9L364.1 165.0L368.5 161.2L369.5 160.4L371.6 160.8L374.7 164.8Z" fill="#F1EBDA"/>
<path d="M366.0 182.9L370.0 173.8L370.0 174.4L377.8 181.9L376.9 183.0L366.3 185.0L365.4 184.7Z" fill="#EAE3CF"/>
<path d="M345.7 197.5L344.6 196.8L346.7 191.0L348.2 190.8L349.2 193.3L347.7 197.2L347.8 197.1Z" fill="#E7DFC9"/>
<path d="M265.6 251.3L261.9 247.5L266.6 241.7L265.0 250.6Z" fill="#EEE8D6"/>
<path d="M351.9 199.2L354.5 203.1L357.3 203.6L358.3 196.2L354.1 196.1Z" fill="#E8E1CC"/>
<path d="M277.7 230.2L270.2 229.2L270.6 226.4L277.6 227.1Z" fill="#F1EBDA"/>
<path d="M265.3 218.8L259.0 214.2L259.4 212.3L262.4 211.0L267.7 215.6Z" fill="#ECE5D1"/>
<path d="M305.0 250.0L299.8 250.8L298.5 244.2L299.7 240.8L301.6 240.5L305.2 248.5L305.1 249.5Z" fill="#F1EBDA"/>
<path d="M360.9 206.4L358.6 204.0L359.7 196.1L361.6 194.8L366.8 199.0L364.0 205.0Z" fill="#E8E1CC"/>
<path d="M260.3 168.0L260.5 160.7L268.4 155.7L277.0 166.7L276.5 168.2L266.8 171.4Z" fill="#ECE5D1"/>
<path d="M345.9 209.5L345.4 198.5L347.2 198.8L347.7 207.5Z" fill="#F1EBDA"/>
<path d="M343.8 156.0L351.2 154.6L352.5 155.5L353.2 160.4L343.2 160.1Z" fill="#F3EEDF"/>
<path d="M323.4 254.4L328.7 248.0L328.9 247.5L330.8 248.1L330.7 251.2L324.4 254.7Z" fill="#F3EEDF"/>
<path d="M298.3 245.3L299.6 250.4L296.6 253.0L292.4 251.4L294.1 247.9Z" fill="#EBE4D0"/>
<path d="M311.5 245.9L313.5 244.0L314.7 238.1L309.4 238.5L309.1 238.4L310.8 245.2Z" fill="#EBE4D0"/>
<path d="M298.7 214.7L290.7 211.0L290.2 211.3L287.9 211.6L286.0 220.5L289.5 219.8L299.2 215.1L299.0 215.5Z" fill="#E4DCC5"/>
<path d="M342.8 229.4L350.0 241.9L346.8 244.4L339.8 244.1L339.7 242.3L340.6 231.3Z" fill="#ECE5D1"/>
<path d="M356.5 266.3L359.1 267.9L359.4 268.5L353.8 269.2L353.1 268.0Z" fill="#E7DFC9"/>
<path d="M254.9 174.2L251.9 174.8L252.2 176.5L256.4 185.9L258.6 186.4L261.2 180.5Z" fill="#EBE4D0"/>
<path d="M281.4 264.7L278.5 259.4L275.9 263.1L280.4 268.0Z" fill="#E8E1CC"/>
<path d="M303.3 203.7L307.4 202.4L309.5 207.7L307.8 216.3L305.7 217.2L301.5 214.2L301.3 214.1Z" fill="#EEE8D6"/>
<path d="M255.8 173.4L261.5 179.1L263.3 179.4L265.9 176.1L266.8 172.4L261.1 169.4Z" fill="#EBE4D0"/>
<path d="M272.0 198.9L273.9 199.1L275.6 200.4L274.2 206.3L272.6 206.7L270.2 206.0L270.3 200.2Z" fill="#EBE4D0"/>
<path d="M365.8 225.8L365.1 220.3L363.5 218.7L359.0 220.7L360.1 226.2Z" fill="#F1EBDA"/>
</g>
<g transform="rotate(27 313.8 211.9)"><rect x="225.4" y="124.9" width="176.7" height="173.9" filter="url(#epsn)" opacity="0.25"/></g>
<rect x="255.4" y="159.9" width="116.7" height="103.9" fill="url(#epsC)"/>
<rect x="255.4" y="159.9" width="116.7" height="103.9" fill="url(#epsL)"/>
<rect x="255.4" y="159.9" width="116.7" height="103.9" fill="url(#epsR)"/>
<rect x="255.4" y="159.9" width="116.7" height="103.9" fill="url(#epsB)"/>
<rect x="255.4" y="159.9" width="116.7" height="103.9" fill="url(#epsT)"/>
<rect x="255.4" y="159.9" width="116.7" height="103.9" fill="url(#epsBR)"/>
<mask id="epsm"><rect x="255.4" y="159.9" width="116.7" height="103.9" fill="#000"/><ellipse cx="258" cy="200" rx="22" ry="30" fill="url(#epsW)"/><ellipse cx="372" cy="180" rx="20" ry="30" fill="url(#epsW)"/><ellipse cx="368" cy="255" rx="22" ry="18" fill="url(#epsW)"/><ellipse cx="300" cy="262" rx="18" ry="10" fill="url(#epsW)"/><ellipse cx="275" cy="163" rx="16" ry="10" fill="url(#epsW)"/></mask>
<rect x="255.4" y="159.9" width="116.7" height="103.9" filter="url(#epsn2)" mask="url(#epsm)" opacity="0.8"/>
</g>
<!-- gochart -->
<g filter="url(#b3)">
<text transform="translate(436.92 67.31) scale(0.25)" class="se" font-size="13.60" text-anchor="middle" font-weight="bold">GO annotation analysis (level 2)</text>
<rect x="396.92" y="71.91" width="0.51" height="1.55" fill="#E8503C" />
<rect x="396.92" y="73.46" width="0.51" height="1.50" fill="#45B9DA" />
<text transform="translate(395.32 74.16) scale(0.25)" class="se" font-size="9.20" text-anchor="end">molecular adaptor activity</text>
<line x1="395.92" y1="73.46" x2="396.92" y2="73.46" stroke="#555" stroke-width="0.25" />
<rect x="396.92" y="75.94" width="0.51" height="1.55" fill="#E8503C" />
<rect x="396.92" y="77.49" width="0.51" height="1.50" fill="#45B9DA" />
<text transform="translate(395.32 78.19) scale(0.25)" class="se" font-size="9.20" text-anchor="end">molecular carrier activity</text>
<line x1="395.92" y1="77.49" x2="396.92" y2="77.49" stroke="#555" stroke-width="0.25" />
<rect x="396.92" y="79.97" width="0.77" height="1.55" fill="#E8503C" />
<rect x="396.92" y="81.52" width="0.26" height="1.50" fill="#45B9DA" />
<text transform="translate(395.32 82.22) scale(0.25)" class="se" font-size="9.20" text-anchor="end">molecular function regulator activity</text>
<line x1="395.92" y1="81.52" x2="396.92" y2="81.52" stroke="#555" stroke-width="0.25" />
<rect x="396.92" y="84.00" width="0.77" height="1.55" fill="#E8503C" />
<rect x="396.92" y="85.55" width="0.26" height="1.50" fill="#45B9DA" />
<text transform="translate(395.32 86.25) scale(0.25)" class="se" font-size="9.20" text-anchor="end">small molecule sensor activity</text>
<line x1="395.92" y1="85.55" x2="396.92" y2="85.55" stroke="#555" stroke-width="0.25" />
<rect x="396.92" y="88.03" width="0.77" height="1.55" fill="#E8503C" />
<rect x="396.92" y="89.58" width="0.26" height="1.50" fill="#45B9DA" />
<text transform="translate(395.32 90.28) scale(0.25)" class="se" font-size="9.20" text-anchor="end">molecular transducer activity</text>
<line x1="395.92" y1="89.58" x2="396.92" y2="89.58" stroke="#555" stroke-width="0.25" />
<rect x="396.92" y="92.06" width="0.77" height="1.55" fill="#E8503C" />
<rect x="396.92" y="93.61" width="0.51" height="1.50" fill="#45B9DA" />
<text transform="translate(395.32 94.31) scale(0.25)" class="se" font-size="9.20" text-anchor="end">structural molecule activity</text>
<line x1="395.92" y1="93.61" x2="396.92" y2="93.61" stroke="#555" stroke-width="0.25" />
<rect x="396.92" y="96.09" width="1.79" height="1.55" fill="#E8503C" />
<rect x="396.92" y="97.64" width="0.51" height="1.50" fill="#45B9DA" />
<text transform="translate(395.32 98.34) scale(0.25)" class="se" font-size="9.20" text-anchor="end">antioxidant activity</text>
<line x1="395.92" y1="97.64" x2="396.92" y2="97.64" stroke="#555" stroke-width="0.25" />
<rect x="396.92" y="100.12" width="3.85" height="1.55" fill="#E8503C" />
<rect x="396.92" y="101.67" width="1.28" height="1.50" fill="#45B9DA" />
<text transform="translate(395.32 102.37) scale(0.25)" class="se" font-size="9.20" text-anchor="end">ATP-dependent activity</text>
<line x1="395.92" y1="101.67" x2="396.92" y2="101.67" stroke="#555" stroke-width="0.25" />
<rect x="396.92" y="104.15" width="7.18" height="1.55" fill="#E8503C" />
<rect x="396.92" y="105.70" width="3.85" height="1.50" fill="#45B9DA" />
<text transform="translate(395.32 106.40) scale(0.25)" class="se" font-size="9.20" text-anchor="end">transcription regulator activity</text>
<line x1="395.92" y1="105.70" x2="396.92" y2="105.70" stroke="#555" stroke-width="0.25" />
<rect x="396.92" y="108.18" width="19.23" height="1.55" fill="#E8503C" />
<rect x="396.92" y="109.73" width="7.18" height="1.50" fill="#45B9DA" />
<text transform="translate(395.32 110.43) scale(0.25)" class="se" font-size="9.20" text-anchor="end">transporter activity</text>
<line x1="395.92" y1="109.73" x2="396.92" y2="109.73" stroke="#555" stroke-width="0.25" />
<rect x="396.92" y="112.20" width="51.79" height="1.55" fill="#E8503C" />
<rect x="396.92" y="113.75" width="30.26" height="1.50" fill="#45B9DA" />
<text transform="translate(395.32 114.45) scale(0.25)" class="se" font-size="9.20" text-anchor="end">binding</text>
<line x1="395.92" y1="113.75" x2="396.92" y2="113.75" stroke="#555" stroke-width="0.25" />
<rect x="396.92" y="116.23" width="70.00" height="1.55" fill="#E8503C" />
<rect x="396.92" y="117.78" width="50.77" height="1.50" fill="#45B9DA" />
<text transform="translate(395.32 118.48) scale(0.25)" class="se" font-size="9.20" text-anchor="end">catalytic activity</text>
<line x1="395.92" y1="117.78" x2="396.92" y2="117.78" stroke="#555" stroke-width="0.25" />
<rect x="396.92" y="120.26" width="11.03" height="1.55" fill="#E8503C" />
<rect x="396.92" y="121.81" width="2.56" height="1.50" fill="#45B9DA" />
<text transform="translate(395.32 122.51) scale(0.25)" class="se" font-size="9.20" text-anchor="end">protein-containing complex</text>
<line x1="395.92" y1="121.81" x2="396.92" y2="121.81" stroke="#555" stroke-width="0.25" />
<rect x="396.92" y="124.29" width="78.21" height="1.55" fill="#E8503C" />
<rect x="396.92" y="125.84" width="53.85" height="1.50" fill="#45B9DA" />
<text transform="translate(395.32 126.54) scale(0.25)" class="se" font-size="9.20" text-anchor="end">cellular anatomical entity</text>
<line x1="395.92" y1="125.84" x2="396.92" y2="125.84" stroke="#555" stroke-width="0.25" />
<rect x="396.92" y="128.32" width="0.51" height="1.55" fill="#E8503C" />
<rect x="396.92" y="129.87" width="0.26" height="1.50" fill="#45B9DA" />
<text transform="translate(395.32 130.57) scale(0.25)" class="se" font-size="9.20" text-anchor="end">locomotion</text>
<line x1="395.92" y1="129.87" x2="396.92" y2="129.87" stroke="#555" stroke-width="0.25" />
<rect x="396.92" y="132.35" width="1.03" height="1.55" fill="#E8503C" />
<rect x="396.92" y="133.90" width="0.26" height="1.50" fill="#45B9DA" />
<text transform="translate(395.32 134.60) scale(0.25)" class="se" font-size="9.20" text-anchor="end">interspecies interaction between organisms</text>
<line x1="395.92" y1="133.90" x2="396.92" y2="133.90" stroke="#555" stroke-width="0.25" />
<rect x="396.92" y="136.38" width="2.56" height="1.55" fill="#E8503C" />
<rect x="396.92" y="137.93" width="16.15" height="1.50" fill="#45B9DA" />
<text transform="translate(395.32 138.63) scale(0.25)" class="se" font-size="9.20" text-anchor="end">developmental process</text>
<line x1="395.92" y1="137.93" x2="396.92" y2="137.93" stroke="#555" stroke-width="0.25" />
<rect x="396.92" y="140.41" width="6.92" height="1.55" fill="#E8503C" />
<rect x="396.92" y="141.96" width="5.13" height="1.50" fill="#45B9DA" />
<text transform="translate(395.32 142.66) scale(0.25)" class="se" font-size="9.20" text-anchor="end">response to stimulus</text>
<line x1="395.92" y1="141.96" x2="396.92" y2="141.96" stroke="#555" stroke-width="0.25" />
<rect x="396.92" y="144.44" width="14.87" height="1.55" fill="#E8503C" />
<rect x="396.92" y="145.99" width="5.64" height="1.50" fill="#45B9DA" />
<text transform="translate(395.32 146.69) scale(0.25)" class="se" font-size="9.20" text-anchor="end">biological regulation</text>
<line x1="395.92" y1="145.99" x2="396.92" y2="145.99" stroke="#555" stroke-width="0.25" />
<rect x="396.92" y="148.47" width="19.23" height="1.55" fill="#E8503C" />
<rect x="396.92" y="150.02" width="6.15" height="1.50" fill="#45B9DA" />
<text transform="translate(395.32 150.72) scale(0.25)" class="se" font-size="9.20" text-anchor="end">localization</text>
<line x1="395.92" y1="150.02" x2="396.92" y2="150.02" stroke="#555" stroke-width="0.25" />
<rect x="396.92" y="152.50" width="48.72" height="1.55" fill="#E8503C" />
<rect x="396.92" y="154.05" width="35.13" height="1.50" fill="#45B9DA" />
<text transform="translate(395.32 154.75) scale(0.25)" class="se" font-size="9.20" text-anchor="end">metabolic process</text>
<line x1="395.92" y1="154.05" x2="396.92" y2="154.05" stroke="#555" stroke-width="0.25" />
<rect x="396.92" y="156.53" width="55.13" height="1.55" fill="#E8503C" />
<rect x="396.92" y="158.08" width="48.21" height="1.50" fill="#45B9DA" />
<text transform="translate(395.32 158.78) scale(0.25)" class="se" font-size="9.20" text-anchor="end">cellular process</text>
<line x1="395.92" y1="158.08" x2="396.92" y2="158.08" stroke="#555" stroke-width="0.25" />
<line x1="396.92" y1="71.41" x2="396.92" y2="160.13" stroke="#888" stroke-width="0.25" />
<line x1="396.92" y1="160.13" x2="487.95" y2="160.13" stroke="#888" stroke-width="0.25" />
<line x1="396.92" y1="160.13" x2="396.92" y2="161.15" stroke="#444" stroke-width="0.25" />
<text transform="translate(396.92 163.46) scale(0.25)" class="se" font-size="7.60" text-anchor="middle" fill-opacity="0.85">0</text>
<line x1="408.24" y1="160.13" x2="408.24" y2="161.15" stroke="#444" stroke-width="0.25" />
<text transform="translate(408.24 163.46) scale(0.25)" class="se" font-size="7.60" text-anchor="middle" fill-opacity="0.85">20</text>
<line x1="419.55" y1="160.13" x2="419.55" y2="161.15" stroke="#444" stroke-width="0.25" />
<text transform="translate(419.55 163.46) scale(0.25)" class="se" font-size="7.60" text-anchor="middle" fill-opacity="0.85">40</text>
<line x1="430.87" y1="160.13" x2="430.87" y2="161.15" stroke="#444" stroke-width="0.25" />
<text transform="translate(430.87 163.46) scale(0.25)" class="se" font-size="7.60" text-anchor="middle" fill-opacity="0.85">60</text>
<line x1="442.18" y1="160.13" x2="442.18" y2="161.15" stroke="#444" stroke-width="0.25" />
<text transform="translate(442.18 163.46) scale(0.25)" class="se" font-size="7.60" text-anchor="middle" fill-opacity="0.85">80</text>
<line x1="453.49" y1="160.13" x2="453.49" y2="161.15" stroke="#444" stroke-width="0.25" />
<text transform="translate(453.49 163.46) scale(0.25)" class="se" font-size="7.60" text-anchor="middle" fill-opacity="0.85">100</text>
<line x1="464.81" y1="160.13" x2="464.81" y2="161.15" stroke="#444" stroke-width="0.25" />
<text transform="translate(464.81 163.46) scale(0.25)" class="se" font-size="7.60" text-anchor="middle" fill-opacity="0.85">120</text>
<line x1="476.12" y1="160.13" x2="476.12" y2="161.15" stroke="#444" stroke-width="0.25" />
<text transform="translate(476.12 163.46) scale(0.25)" class="se" font-size="7.60" text-anchor="middle" fill-opacity="0.85">140</text>
<line x1="487.44" y1="160.13" x2="487.44" y2="161.15" stroke="#444" stroke-width="0.25" />
<text transform="translate(487.44 163.46) scale(0.25)" class="se" font-size="7.60" text-anchor="middle" fill-opacity="0.85">160</text>
<text transform="translate(441.79 166.28) scale(0.25)" class="se" font-size="10.40" text-anchor="middle">Number of genes</text>
<text transform="translate(350.26 111.92) rotate(-90.0) scale(0.25)" class="se" font-size="10.00" text-anchor="middle">GO term</text>
<rect x="485.90" y="71.67" width="1.50" height="46.92" fill="#F4846A" />
<rect x="485.90" y="120.13" width="1.50" height="6.92" fill="#3B4A92" />
<rect x="485.90" y="128.08" width="1.50" height="31.28" fill="#17A088" />
<rect x="499.20" y="71.80" width="1.90" height="1.80" fill="#E8402C" />
<text transform="translate(501.80 73.35) scale(0.25)" class="se" font-size="8.00" fill-opacity="0.85">up</text>
<rect x="499.20" y="75.30" width="1.90" height="1.80" fill="#45B9DA" />
<text transform="translate(501.80 76.85) scale(0.25)" class="se" font-size="8.00" fill-opacity="0.85">down</text>
<rect x="499.20" y="80.10" width="1.90" height="1.80" fill="#17A088" />
<text transform="translate(501.80 81.65) scale(0.25)" class="se" font-size="8.00" fill-opacity="0.85">biological_process</text>
<rect x="499.20" y="83.30" width="1.90" height="1.80" fill="#3B4A92" />
<text transform="translate(501.80 84.85) scale(0.25)" class="se" font-size="8.00" fill-opacity="0.85">cellular_component</text>
<rect x="499.20" y="86.50" width="1.90" height="1.80" fill="#F4846A" />
<text transform="translate(501.80 88.05) scale(0.25)" class="se" font-size="8.00" fill-opacity="0.85">molecular_function</text>
</g>
<!-- log2chart -->
<g filter="url(#b3)">
<rect x="540.31" y="60.36" width="208.44" height="65.47" fill="#fff" stroke="#7a7a7a" stroke-width="0.7"/>
<rect x="541.82" y="81.04" width="2.50" height="12.45" fill="#F67272" />
<rect x="547.45" y="82.48" width="2.50" height="11.01" fill="#F67272" />
<rect x="553.08" y="82.48" width="2.50" height="11.01" fill="#F67272" />
<rect x="558.72" y="75.71" width="2.50" height="17.78" fill="#F67272" />
<rect x="564.35" y="82.48" width="2.50" height="11.01" fill="#F67272" />
<rect x="569.98" y="76.14" width="2.50" height="17.35" fill="#F67272" />
<rect x="575.61" y="81.04" width="2.50" height="12.45" fill="#F67272" />
<rect x="581.24" y="79.45" width="2.50" height="14.04" fill="#F67272" />
<rect x="586.87" y="79.45" width="2.50" height="14.04" fill="#F67272" />
<rect x="592.50" y="83.05" width="2.50" height="10.44" fill="#F67272" />
<rect x="598.13" y="93.49" width="2.50" height="18.35" fill="#5CF2FA" />
<rect x="603.77" y="93.49" width="2.50" height="17.99" fill="#5CF2FA" />
<rect x="609.40" y="82.48" width="2.50" height="11.01" fill="#F67272" />
<rect x="615.03" y="79.45" width="2.50" height="14.04" fill="#F67272" />
<rect x="620.66" y="80.89" width="2.50" height="12.60" fill="#F67272" />
<rect x="626.29" y="81.47" width="2.50" height="12.02" fill="#F67272" />
<rect x="631.92" y="93.49" width="2.50" height="13.32" fill="#5CF2FA" />
<rect x="637.55" y="93.49" width="2.50" height="6.48" fill="#5CF2FA" />
<rect x="643.18" y="76.14" width="2.50" height="17.35" fill="#F67272" />
<rect x="648.81" y="85.57" width="2.50" height="7.92" fill="#F67272" />
<rect x="654.45" y="83.41" width="2.50" height="10.08" fill="#F67272" />
<rect x="660.08" y="77.15" width="2.50" height="16.34" fill="#F67272" />
<rect x="665.71" y="93.49" width="2.50" height="10.08" fill="#5CF2FA" />
<rect x="671.34" y="78.37" width="2.50" height="15.12" fill="#F67272" />
<rect x="676.97" y="74.20" width="2.50" height="19.29" fill="#F67272" />
<rect x="682.60" y="80.53" width="2.50" height="12.96" fill="#F67272" />
<rect x="688.23" y="93.49" width="2.50" height="25.91" fill="#5CF2FA" />
<rect x="693.86" y="93.49" width="2.50" height="26.63" fill="#5CF2FA" />
<rect x="699.49" y="93.49" width="2.50" height="25.91" fill="#5CF2FA" />
<rect x="705.13" y="93.49" width="2.50" height="25.19" fill="#5CF2FA" />
<rect x="710.76" y="93.49" width="2.50" height="24.83" fill="#5CF2FA" />
<rect x="716.39" y="93.49" width="2.50" height="20.15" fill="#5CF2FA" />
<rect x="722.02" y="93.49" width="2.50" height="20.15" fill="#5CF2FA" />
<rect x="727.65" y="93.49" width="2.50" height="19.79" fill="#5CF2FA" />
<rect x="733.28" y="90.61" width="2.50" height="2.88" fill="#F67272" />
<rect x="738.91" y="89.89" width="2.50" height="3.60" fill="#F67272" />
<rect x="744.54" y="90.25" width="2.50" height="3.24" fill="#F67272" />
<line x1="540.31" y1="93.49" x2="748.75" y2="93.49" stroke="#6a6a6a" stroke-width="0.7" />
<line x1="538.61" y1="64.70" x2="540.31" y2="64.70" stroke="#333" stroke-width="0.5" />
<text transform="translate(538.01 66.10) scale(0.25)" class="sa" font-size="18.40" text-anchor="end" font-weight="bold">4</text>
<line x1="538.61" y1="79.09" x2="540.31" y2="79.09" stroke="#333" stroke-width="0.5" />
<text transform="translate(538.01 80.49) scale(0.25)" class="sa" font-size="18.40" text-anchor="end" font-weight="bold">2</text>
<line x1="538.61" y1="93.49" x2="540.31" y2="93.49" stroke="#333" stroke-width="0.5" />
<text transform="translate(538.01 94.89) scale(0.25)" class="sa" font-size="18.40" text-anchor="end" font-weight="bold">0</text>
<line x1="538.61" y1="107.89" x2="540.31" y2="107.89" stroke="#333" stroke-width="0.5" />
<text transform="translate(538.01 109.29) scale(0.25)" class="sa" font-size="18.40" text-anchor="end" font-weight="bold">-2</text>
<line x1="538.61" y1="122.28" x2="540.31" y2="122.28" stroke="#333" stroke-width="0.5" />
<text transform="translate(538.01 123.68) scale(0.25)" class="sa" font-size="18.40" text-anchor="end" font-weight="bold">-4</text>
<text transform="translate(529.86 93.49) rotate(-90.0) scale(0.25)" class="sa" font-size="17.20" text-anchor="middle" font-weight="bold">Log2 ( fold change)</text>
<text transform="translate(544.67 131.63) rotate(-45.0) scale(0.25)" class="sa" font-size="17.20" text-anchor="end" font-weight="bold" textLength="93.6" lengthAdjust="spacingAndGlyphs">BSU_38570</text>
<text transform="translate(550.30 131.63) rotate(-45.0) scale(0.25)" class="sa" font-size="17.20" text-anchor="end" font-weight="bold" textLength="93.6" lengthAdjust="spacingAndGlyphs">BSU_12010</text>
<text transform="translate(555.93 131.63) rotate(-45.0) scale(0.25)" class="sa" font-size="17.20" text-anchor="end" font-weight="bold" textLength="93.6" lengthAdjust="spacingAndGlyphs">BSU_38050</text>
<text transform="translate(561.57 131.63) rotate(-45.0) scale(0.25)" class="sa" font-size="17.20" text-anchor="end" font-weight="bold" textLength="93.6" lengthAdjust="spacingAndGlyphs">BSU_08200</text>
<text transform="translate(567.20 131.63) rotate(-45.0) scale(0.25)" class="sa" font-size="17.20" text-anchor="end" font-weight="bold" textLength="93.6" lengthAdjust="spacingAndGlyphs">BSU_13890</text>
<text transform="translate(572.83 131.63) rotate(-45.0) scale(0.25)" class="sa" font-size="17.20" text-anchor="end" font-weight="bold" textLength="93.6" lengthAdjust="spacingAndGlyphs">BSU_38410</text>
<text transform="translate(578.46 131.63) rotate(-45.0) scale(0.25)" class="sa" font-size="17.20" text-anchor="end" font-weight="bold" textLength="93.6" lengthAdjust="spacingAndGlyphs">BSU_35830</text>
<text transform="translate(584.09 131.63) rotate(-45.0) scale(0.25)" class="sa" font-size="17.20" text-anchor="end" font-weight="bold" textLength="93.6" lengthAdjust="spacingAndGlyphs">BSU_14400</text>
<text transform="translate(589.72 131.63) rotate(-45.0) scale(0.25)" class="sa" font-size="17.20" text-anchor="end" font-weight="bold" textLength="93.6" lengthAdjust="spacingAndGlyphs">BSU_11780</text>
<text transform="translate(595.35 131.63) rotate(-45.0) scale(0.25)" class="sa" font-size="17.20" text-anchor="end" font-weight="bold" textLength="93.6" lengthAdjust="spacingAndGlyphs">BSU_39260</text>
<text transform="translate(600.98 131.63) rotate(-45.0) scale(0.25)" class="sa" font-size="17.20" text-anchor="end" font-weight="bold" textLength="93.6" lengthAdjust="spacingAndGlyphs">BSU_35660</text>
<text transform="translate(606.62 131.63) rotate(-45.0) scale(0.25)" class="sa" font-size="17.20" text-anchor="end" font-weight="bold" textLength="93.6" lengthAdjust="spacingAndGlyphs">BSU_01780</text>
<text transform="translate(612.25 131.63) rotate(-45.0) scale(0.25)" class="sa" font-size="17.20" text-anchor="end" font-weight="bold" textLength="93.6" lengthAdjust="spacingAndGlyphs">BSU_35609</text>
<text transform="translate(617.88 131.63) rotate(-45.0) scale(0.25)" class="sa" font-size="17.20" text-anchor="end" font-weight="bold" textLength="93.6" lengthAdjust="spacingAndGlyphs">BSU_39270</text>
<text transform="translate(623.51 131.63) rotate(-45.0) scale(0.25)" class="sa" font-size="17.20" text-anchor="end" font-weight="bold" textLength="93.6" lengthAdjust="spacingAndGlyphs">BSU_37450</text>
<text transform="translate(629.14 131.63) rotate(-45.0) scale(0.25)" class="sa" font-size="17.20" text-anchor="end" font-weight="bold" textLength="93.6" lengthAdjust="spacingAndGlyphs">BSU_35670</text>
<text transform="translate(634.77 131.63) rotate(-45.0) scale(0.25)" class="sa" font-size="17.20" text-anchor="end" font-weight="bold" textLength="93.6" lengthAdjust="spacingAndGlyphs">BSU_02350</text>
<text transform="translate(640.40 131.63) rotate(-45.0) scale(0.25)" class="sa" font-size="17.20" text-anchor="end" font-weight="bold" textLength="93.6" lengthAdjust="spacingAndGlyphs">BSU_30620</text>
<text transform="translate(646.03 131.63) rotate(-45.0) scale(0.25)" class="sa" font-size="17.20" text-anchor="end" font-weight="bold" textLength="93.6" lengthAdjust="spacingAndGlyphs">BSU_03600</text>
<text transform="translate(651.66 131.63) rotate(-45.0) scale(0.25)" class="sa" font-size="17.20" text-anchor="end" font-weight="bold" textLength="93.6" lengthAdjust="spacingAndGlyphs">BSU_08840</text>
<text transform="translate(657.30 131.63) rotate(-45.0) scale(0.25)" class="sa" font-size="17.20" text-anchor="end" font-weight="bold" textLength="93.6" lengthAdjust="spacingAndGlyphs">BSU_11410</text>
<text transform="translate(662.93 131.63) rotate(-45.0) scale(0.25)" class="sa" font-size="17.20" text-anchor="end" font-weight="bold" textLength="93.6" lengthAdjust="spacingAndGlyphs">BSU_29130</text>
<text transform="translate(668.56 131.63) rotate(-45.0) scale(0.25)" class="sa" font-size="17.20" text-anchor="end" font-weight="bold" textLength="93.6" lengthAdjust="spacingAndGlyphs">BSU_33900</text>
<text transform="translate(674.19 131.63) rotate(-45.0) scale(0.25)" class="sa" font-size="17.20" text-anchor="end" font-weight="bold" textLength="93.6" lengthAdjust="spacingAndGlyphs">BSU_29020</text>
<text transform="translate(679.82 131.63) rotate(-45.0) scale(0.25)" class="sa" font-size="17.20" text-anchor="end" font-weight="bold" textLength="93.6" lengthAdjust="spacingAndGlyphs">BSU_34440</text>
<text transform="translate(685.45 131.63) rotate(-45.0) scale(0.25)" class="sa" font-size="17.20" text-anchor="end" font-weight="bold" textLength="93.6" lengthAdjust="spacingAndGlyphs">BSU_38050</text>
<text transform="translate(691.08 131.63) rotate(-45.0) scale(0.25)" class="sa" font-size="17.20" text-anchor="end" font-weight="bold" textLength="93.6" lengthAdjust="spacingAndGlyphs">BSU_34910</text>
<text transform="translate(696.71 131.63) rotate(-45.0) scale(0.25)" class="sa" font-size="17.20" text-anchor="end" font-weight="bold" textLength="93.6" lengthAdjust="spacingAndGlyphs">BSU_34880</text>
<text transform="translate(702.34 131.63) rotate(-45.0) scale(0.25)" class="sa" font-size="17.20" text-anchor="end" font-weight="bold" textLength="93.6" lengthAdjust="spacingAndGlyphs">BSU_34870</text>
<text transform="translate(707.98 131.63) rotate(-45.0) scale(0.25)" class="sa" font-size="17.20" text-anchor="end" font-weight="bold" textLength="93.6" lengthAdjust="spacingAndGlyphs">BSU_34890</text>
<text transform="translate(713.61 131.63) rotate(-45.0) scale(0.25)" class="sa" font-size="17.20" text-anchor="end" font-weight="bold" textLength="93.6" lengthAdjust="spacingAndGlyphs">BSU_34860</text>
<text transform="translate(719.24 131.63) rotate(-45.0) scale(0.25)" class="sa" font-size="17.20" text-anchor="end" font-weight="bold" textLength="93.6" lengthAdjust="spacingAndGlyphs">BSU_34900</text>
<text transform="translate(724.87 131.63) rotate(-45.0) scale(0.25)" class="sa" font-size="17.20" text-anchor="end" font-weight="bold" textLength="93.6" lengthAdjust="spacingAndGlyphs">BSU_34920</text>
<text transform="translate(730.50 131.63) rotate(-45.0) scale(0.25)" class="sa" font-size="17.20" text-anchor="end" font-weight="bold" textLength="93.6" lengthAdjust="spacingAndGlyphs">BSU_34930</text>
<text transform="translate(736.13 131.63) rotate(-45.0) scale(0.25)" class="sa" font-size="17.20" text-anchor="end" font-weight="bold" textLength="93.6" lengthAdjust="spacingAndGlyphs">BSU_39400</text>
<text transform="translate(741.76 131.63) rotate(-45.0) scale(0.25)" class="sa" font-size="17.20" text-anchor="end" font-weight="bold" textLength="93.6" lengthAdjust="spacingAndGlyphs">BSU_27310</text>
<text transform="translate(747.39 131.63) rotate(-45.0) scale(0.25)" class="sa" font-size="17.20" text-anchor="end" font-weight="bold" textLength="93.6" lengthAdjust="spacingAndGlyphs">BSU_39080</text>
<rect x="527.30" y="150.96" width="46.54" height="3.55" fill="#F63A44" />
<rect x="575.81" y="150.96" width="13.21" height="3.55" fill="#FF8000" />
<rect x="590.60" y="150.96" width="32.93" height="3.55" fill="#FFFF00" />
<rect x="625.90" y="150.96" width="15.78" height="3.55" fill="#00BE28" />
<rect x="643.64" y="150.96" width="8.87" height="3.55" fill="#1098C0" />
<rect x="655.48" y="150.96" width="15.38" height="3.55" fill="#A820D0" />
<rect x="673.22" y="150.96" width="59.75" height="3.55" fill="#F01480" />
<rect x="527.30" y="158.85" width="5.52" height="2.76" fill="#F63A44" />
<text transform="translate(534.20 161.48) scale(0.25)" class="se" font-size="16.80" textLength="223.2" lengthAdjust="spacingAndGlyphs">Phosphotransferase system (PTS)</text>
<rect x="591.98" y="158.85" width="8.28" height="2.76" fill="#FF8000" />
<text transform="translate(601.84 161.48) scale(0.25)" class="se" font-size="16.80" textLength="306.1" lengthAdjust="spacingAndGlyphs">Amino sugar and nucleotide sugar metabolism</text>
<rect x="682.10" y="158.85" width="7.89" height="2.76" fill="#FFFF00" />
<text transform="translate(691.96 161.48) scale(0.25)" class="se" font-size="16.80" textLength="116.7" lengthAdjust="spacingAndGlyphs">ABC transporters</text>
<rect x="527.30" y="167.33" width="5.52" height="2.76" fill="#00BE28" />
<text transform="translate(534.20 169.96) scale(0.25)" class="se" font-size="16.80" textLength="199.6" lengthAdjust="spacingAndGlyphs">Glycolysis / Gluconeogenesis</text>
<rect x="591.98" y="167.33" width="8.28" height="2.76" fill="#1098C0" />
<text transform="translate(601.84 169.96) scale(0.25)" class="se" font-size="16.80" textLength="276.1" lengthAdjust="spacingAndGlyphs">Pentose and glucuronate interconversions</text>
<rect x="682.10" y="167.33" width="7.89" height="2.76" fill="#A820D0" />
<text transform="translate(691.96 169.96) scale(0.25)" class="se" font-size="16.80" textLength="205.9" lengthAdjust="spacingAndGlyphs">Starch and sucrose metabolism</text>
<rect x="523.94" y="175.81" width="8.28" height="2.76" fill="#F01480" />
<text transform="translate(534.20 178.44) scale(0.25)" class="se" font-size="16.80" textLength="142.8" lengthAdjust="spacingAndGlyphs">Histidine metabolism</text>
</g>
<!-- plasmids -->
<g filter="url(#b4)">
<text transform="translate(835.13 57.95) scale(0.25)" class="sa" font-size="10.4" fill="#000" textLength="56.4" lengthAdjust="spacingAndGlyphs"><tspan fill="#666">(8982) </tspan><tspan font-weight="bold">SrfI</tspan></text>
<path d="M850.03 57.05L851.48 64.97L851.84 67.95" fill="none" stroke="#9a9a9a" stroke-width="0.3"/>
<text transform="translate(814.62 67.69) scale(0.25)" class="sa" font-size="10.4" fill="#000" textLength="61.5" lengthAdjust="spacingAndGlyphs"><tspan fill="#666">(8556) </tspan><tspan font-weight="bold">AfeI</tspan></text>
<path d="M830.80 66.79L833.55 72.40L835.40 74.76" fill="none" stroke="#9a9a9a" stroke-width="0.3"/>
<text transform="translate(782.56 88.98) scale(0.25)" class="sa" font-size="10.4" fill="#000" textLength="133.3" lengthAdjust="spacingAndGlyphs"><tspan fill="#666">(7726) </tspan><tspan font-weight="bold">PaeR7I - TliI - XhoI</tspan></text>
<path d="M816.70 88.08L821.19 90.39L824.06 91.26" fill="none" stroke="#9a9a9a" stroke-width="0.3"/>
<text transform="translate(799.23 93.34) scale(0.25)" class="sa" font-size="10.4" fill="#000" textLength="64.6" lengthAdjust="spacingAndGlyphs"><tspan fill="#666">(7591) </tspan><tspan font-weight="bold">BsaHI</tspan></text>
<path d="M816.18 92.44L820.39 93.45L823.33 94.08" fill="none" stroke="#9a9a9a" stroke-width="0.3"/>
<text transform="translate(790.26 106.67) scale(0.25)" class="sa" font-size="10.4" fill="#000" textLength="100.5" lengthAdjust="spacingAndGlyphs"><tspan fill="#666">(6969) </tspan><tspan font-weight="bold">BspDI - ClaI</tspan></text>
<path d="M816.18 105.77L819.80 104.79L822.78 104.48" fill="none" stroke="#9a9a9a" stroke-width="0.3"/>
<text transform="translate(800.51 121.03) scale(0.25)" class="sa" font-size="10.4" fill="#888" textLength="56.4" lengthAdjust="spacingAndGlyphs"><tspan fill="#666">(6354) </tspan><tspan font-weight="bold">EcoO109I</tspan></text>
<path d="M815.42 120.13L822.74 115.76L825.48 114.54" fill="none" stroke="#9a9a9a" stroke-width="0.3"/>
<text transform="translate(806.92 123.59) scale(0.25)" class="sa" font-size="10.4" fill="#000" textLength="51.3" lengthAdjust="spacingAndGlyphs"><tspan fill="#666">(6309) </tspan><tspan font-weight="bold">SalI</tspan></text>
<path d="M820.54 122.69L823.56 117.48L826.23 116.12" fill="none" stroke="#9a9a9a" stroke-width="0.3"/>
<text transform="translate(814.62 135.64) scale(0.25)" class="sa" font-size="10.4" fill="#000" textLength="54.4" lengthAdjust="spacingAndGlyphs"><tspan fill="#666">(5587) </tspan><tspan font-weight="bold">MluI</tspan></text>
<path d="M829.01 134.74L833.55 129.60L835.40 127.24" fill="none" stroke="#9a9a9a" stroke-width="0.3"/>
<text transform="translate(846.67 151.03) scale(0.25)" class="sa" font-size="10.4" fill="#000" textLength="61.5" lengthAdjust="spacingAndGlyphs"><tspan fill="#666">(4742) </tspan><tspan font-weight="bold">SwaI</tspan></text>
<path d="M862.85 150.13L860.95 136.95L860.53 133.98" fill="none" stroke="#9a9a9a" stroke-width="0.3"/>
<text transform="translate(882.05 66.93) scale(0.25)" class="sa" font-size="10.4" fill="#000" textLength="73.8" lengthAdjust="spacingAndGlyphs"><tspan font-weight="bold">BsrGI</tspan><tspan fill="#666"> (1040)</tspan></text>
<path d="M881.25 66.03L882.88 76.71L880.65 78.72" fill="none" stroke="#9a9a9a" stroke-width="0.3"/>
<text transform="translate(885.13 70.26) scale(0.25)" class="sa" font-size="10.4" fill="#000" textLength="61.5" lengthAdjust="spacingAndGlyphs"><tspan font-weight="bold">SacI</tspan><tspan fill="#666"> (1084)</tspan></text>
<path d="M884.33 69.36L883.71 77.67L881.41 79.60" fill="none" stroke="#9a9a9a" stroke-width="0.3"/>
<text transform="translate(887.18 72.82) scale(0.25)" class="sa" font-size="10.4" fill="#000" textLength="58.5" lengthAdjust="spacingAndGlyphs"><tspan font-weight="bold">NaeI</tspan><tspan fill="#666"> (1128)</tspan></text>
<path d="M886.38 71.92L884.50 78.65L882.14 80.50" fill="none" stroke="#9a9a9a" stroke-width="0.3"/>
<text transform="translate(888.46 75.90) scale(0.25)" class="sa" font-size="10.4" fill="#888" textLength="68.7" lengthAdjust="spacingAndGlyphs"><tspan font-weight="bold">BstAPI</tspan><tspan fill="#666"> (1270)</tspan></text>
<path d="M887.66 75.00L885.64 80.18L883.18 81.90" fill="none" stroke="#9a9a9a" stroke-width="0.3"/>
<text transform="translate(890.26 78.46) scale(0.25)" class="sa" font-size="10.4" fill="#000" textLength="61.5" lengthAdjust="spacingAndGlyphs"><tspan font-weight="bold">BtgI</tspan><tspan fill="#666"> (1391)</tspan></text>
<path d="M889.46 77.56L886.34 81.23L883.83 82.86" fill="none" stroke="#9a9a9a" stroke-width="0.3"/>
<text transform="translate(892.31 81.03) scale(0.25)" class="sa" font-size="10.4" fill="#000" textLength="58.5" lengthAdjust="spacingAndGlyphs"><tspan font-weight="bold">PfoI</tspan><tspan fill="#666"> (1432)</tspan></text>
<path d="M891.51 80.13L887.02 82.30L884.44 83.85" fill="none" stroke="#9a9a9a" stroke-width="0.3"/>
<text transform="translate(893.59 85.64) scale(0.25)" class="sa" font-size="10.4" fill="#000" textLength="68.7" lengthAdjust="spacingAndGlyphs"><tspan font-weight="bold">EcoNI</tspan><tspan fill="#666"> (1592)</tspan></text>
<path d="M892.79 84.74L889.06 86.24L886.32 87.46" fill="none" stroke="#9a9a9a" stroke-width="0.3"/>
<text transform="translate(894.10 87.69) scale(0.25)" class="sa" font-size="10.4" fill="#000" textLength="71.8" lengthAdjust="spacingAndGlyphs"><tspan font-weight="bold">BstEII</tspan><tspan fill="#666"> (1655)</tspan></text>
<path d="M893.30 86.79L889.56 87.40L886.78 88.53" fill="none" stroke="#9a9a9a" stroke-width="0.3"/>
<text transform="translate(895.90 92.31) scale(0.25)" class="sa" font-size="10.4" fill="#000" textLength="74.9" lengthAdjust="spacingAndGlyphs"><tspan font-weight="bold">Bsp120I</tspan><tspan fill="#666"> (1860)</tspan></text>
<path d="M895.10 91.41L891.41 93.45L888.47 94.08" fill="none" stroke="#9a9a9a" stroke-width="0.3"/>
<text transform="translate(896.67 94.87) scale(0.25)" class="sa" font-size="10.4" fill="#000" textLength="61.5" lengthAdjust="spacingAndGlyphs"><tspan font-weight="bold">ApaI</tspan><tspan fill="#666"> (1864)</tspan></text>
<path d="M895.87 93.97L891.65 94.70L888.69 95.22" fill="none" stroke="#9a9a9a" stroke-width="0.3"/>
<text transform="translate(897.18 97.44) scale(0.25)" class="sa" font-size="10.4" fill="#000" textLength="59.5" lengthAdjust="spacingAndGlyphs"><tspan font-weight="bold">KflI</tspan><tspan fill="#666"> (1911)</tspan></text>
<path d="M896.38 96.54L891.85 95.95L888.88 96.37" fill="none" stroke="#9a9a9a" stroke-width="0.3"/>
<text transform="translate(896.67 102.82) scale(0.25)" class="sa" font-size="10.4" fill="#000" textLength="71.8" lengthAdjust="spacingAndGlyphs"><tspan font-weight="bold">Acc65I</tspan><tspan fill="#666"> (2214)</tspan></text>
<path d="M895.87 101.92L892.18 102.27L889.18 102.16" fill="none" stroke="#9a9a9a" stroke-width="0.3"/>
<text transform="translate(897.18 105.39) scale(0.25)" class="sa" font-size="10.4" fill="#000" textLength="59.5" lengthAdjust="spacingAndGlyphs"><tspan font-weight="bold">KpnI</tspan><tspan fill="#666"> (2218)</tspan></text>
<path d="M896.38 104.49L892.11 103.53L889.12 103.32" fill="none" stroke="#9a9a9a" stroke-width="0.3"/>
<text transform="translate(895.90 109.49) scale(0.25)" class="sa" font-size="10.4" fill="#000" textLength="64.6" lengthAdjust="spacingAndGlyphs"><tspan font-weight="bold">BstXI</tspan><tspan fill="#666"> (2367)</tspan></text>
<path d="M895.10 108.59L891.65 107.30L888.69 106.78" fill="none" stroke="#9a9a9a" stroke-width="0.3"/>
<text transform="translate(895.90 113.85) scale(0.25)" class="sa" font-size="10.4" fill="#000" textLength="54.4" lengthAdjust="spacingAndGlyphs"><tspan font-weight="bold">AfeI</tspan><tspan fill="#666"> (2551)</tspan></text>
<path d="M895.10 112.95L890.42 112.22L887.57 111.29" fill="none" stroke="#9a9a9a" stroke-width="0.3"/>
<text transform="translate(894.10 118.21) scale(0.25)" class="sa" font-size="10.4" fill="#000" textLength="61.5" lengthAdjust="spacingAndGlyphs"><tspan font-weight="bold">PshAI</tspan><tspan fill="#666"> (2790)</tspan></text>
<path d="M893.30 117.31L888.53 116.91L885.83 115.60" fill="none" stroke="#9a9a9a" stroke-width="0.3"/>
<text transform="translate(893.59 120.77) scale(0.25)" class="sa" font-size="10.4" fill="#000" textLength="63.6" lengthAdjust="spacingAndGlyphs"><tspan font-weight="bold">BspEI</tspan><tspan fill="#666"> (2834)</tspan></text>
<path d="M892.79 119.87L887.65 118.60L885.02 117.14" fill="none" stroke="#9a9a9a" stroke-width="0.3"/>
<text transform="translate(890.77 124.87) scale(0.25)" class="sa" font-size="10.4" fill="#000" textLength="69.7" lengthAdjust="spacingAndGlyphs"><tspan font-weight="bold">BsaBI</tspan><tspan fill="#666"> (3021)</tspan></text>
<path d="M889.97 123.97L884.89 122.85L882.49 121.04" fill="none" stroke="#9a9a9a" stroke-width="0.3"/>
<text transform="translate(888.97 129.23) scale(0.25)" class="sa" font-size="10.4" fill="#000" textLength="92.3" lengthAdjust="spacingAndGlyphs"><tspan font-weight="bold">BspI - BstI</tspan><tspan fill="#666"> (3277)</tspan></text>
<path d="M888.17 128.33L879.23 128.81L877.30 126.51" fill="none" stroke="#9a9a9a" stroke-width="0.3"/>
<text transform="translate(887.18 131.80) scale(0.25)" class="sa" font-size="10.4" fill="#000" textLength="58.5" lengthAdjust="spacingAndGlyphs"><tspan font-weight="bold">BsrGI</tspan><tspan fill="#666"> (3312)</tspan></text>
<path d="M886.38 130.90L877.75 129.99L875.94 127.59" fill="none" stroke="#9a9a9a" stroke-width="0.3"/>
<text transform="translate(883.85 136.16) scale(0.25)" class="sa" font-size="10.4" fill="#000" textLength="66.7" lengthAdjust="spacingAndGlyphs"><tspan font-weight="bold">BamHI</tspan><tspan fill="#666"> (3630)</tspan></text>
<path d="M883.05 135.26L872.38 133.34L871.02 130.67" fill="none" stroke="#9a9a9a" stroke-width="0.3"/>
<text transform="translate(877.44 140.00) scale(0.25)" class="sa" font-size="10.4" fill="#000" textLength="123.1" lengthAdjust="spacingAndGlyphs"><tspan font-weight="bold">XbaI - PaeR7I</tspan><tspan fill="#666"> (3812)</tspan></text>
<path d="M876.64 139.10L867.12 135.52L866.19 132.67" fill="none" stroke="#9a9a9a" stroke-width="0.3"/>
<text transform="translate(878.72 143.34) scale(0.25)" class="sa" font-size="10.4" fill="#000" textLength="61.5" lengthAdjust="spacingAndGlyphs"><tspan font-weight="bold">SpeI</tspan><tspan fill="#666"> (3873)</tspan></text>
<path d="M877.92 142.44L865.30 136.06L864.52 133.17" fill="none" stroke="#9a9a9a" stroke-width="0.3"/>
<text transform="translate(875.38 145.90) scale(0.25)" class="sa" font-size="10.4" fill="#000" textLength="59.5" lengthAdjust="spacingAndGlyphs"><tspan font-weight="bold">ZraI</tspan><tspan fill="#666"> (3927)</tspan></text>
<path d="M874.58 145.00L863.45 136.51L862.82 133.57" fill="none" stroke="#9a9a9a" stroke-width="0.3"/>
<text transform="translate(872.31 148.46) scale(0.25)" class="sa" font-size="10.4" fill="#000" textLength="61.5" lengthAdjust="spacingAndGlyphs"><tspan font-weight="bold">AatII</tspan><tspan fill="#666"> (3929)</tspan></text>
<path d="M871.51 147.56L862.20 136.75L861.68 133.79" fill="none" stroke="#9a9a9a" stroke-width="0.3"/>
<text transform="translate(867.18 151.03) scale(0.25)" class="sa" font-size="10.4" fill="#000" textLength="102.6" lengthAdjust="spacingAndGlyphs"><tspan font-weight="bold">Tsp45I - SmaI</tspan><tspan fill="#666"> (4064)</tspan></text>
<path d="M866.38 150.13L859.69 137.10L859.38 134.12" fill="none" stroke="#9a9a9a" stroke-width="0.3"/>
<circle cx="855.90" cy="101.00" r="33.30" fill="none" stroke="#111" stroke-width="0.9"/>
<rect x="838.35" y="72.72" width="3.2" height="1.3" fill="#fff" stroke="#555" stroke-width="0.3" transform="rotate(-30.0 839.95 73.37)"/>
<rect x="852.63" y="68.49" width="3.2" height="1.3" fill="#fff" stroke="#555" stroke-width="0.3" transform="rotate(-3.0 854.23 69.14)"/>
<rect x="880.43" y="82.05" width="3.2" height="1.3" fill="#fff" stroke="#555" stroke-width="0.3" transform="rotate(55.0 882.03 82.70)"/>
<rect x="886.18" y="101.46" width="3.2" height="1.3" fill="#fff" stroke="#555" stroke-width="0.3" transform="rotate(92.0 887.78 102.11)"/>
<rect x="878.74" y="120.85" width="3.2" height="1.3" fill="#fff" stroke="#555" stroke-width="0.3" transform="rotate(130.0 880.34 121.50)"/>
<rect x="865.21" y="130.33" width="3.2" height="1.3" fill="#fff" stroke="#555" stroke-width="0.3" transform="rotate(160.0 866.81 130.98)"/>
<rect x="853.19" y="132.23" width="3.2" height="1.3" fill="#fff" stroke="#555" stroke-width="0.3" transform="rotate(182.0 854.79 132.88)"/>
<rect x="831.74" y="122.91" width="3.2" height="1.3" fill="#fff" stroke="#555" stroke-width="0.3" transform="rotate(225.0 833.34 123.56)"/>
<rect x="822.42" y="101.46" width="3.2" height="1.3" fill="#fff" stroke="#555" stroke-width="0.3" transform="rotate(268.0 824.02 102.11)"/>
<rect x="828.17" y="82.05" width="3.2" height="1.3" fill="#fff" stroke="#555" stroke-width="0.3" transform="rotate(305.0 829.77 82.70)"/>
<path d="M848.84 129.33A29.20 29.20 0 0 1 840.86 126.03" fill="none" stroke="#D9983E" stroke-width="0.65"/>
<path d="M839.15 124.92A29.20 29.20 0 0 1 827.83 92.95" fill="none" stroke="#D9983E" stroke-width="0.65"/>
<path d="M829.66 88.20A29.20 29.20 0 0 1 839.57 76.79" fill="none" stroke="#D9983E" stroke-width="0.65"/>
<path d="M829.63 105.16A26.60 26.60 0 0 1 829.88 95.47" fill="none" stroke="#86CC52" stroke-width="0.6"/>
<path d="M868.29 77.69A26.40 26.40 0 0 1 882.04 97.33" fill="none" stroke="#8CD050" stroke-width="0.55"/>
<path d="M852.93 72.76A28.40 28.40 0 0 1 868.79 75.70" fill="none" stroke="#8CD050" stroke-width="0.55"/>
<path d="M872.15 121.80A26.40 26.40 0 0 1 868.29 124.31" fill="none" stroke="#8CD050" stroke-width="0.55"/>
<path d="M838.86 110.06A19.30 19.30 0 0 1 838.70 92.24" fill="none" stroke="#666" stroke-width="0.4"/>
<path d="M870.56 89.55A18.60 18.60 0 0 1 865.76 116.77" fill="none" stroke="#777" stroke-width="0.4"/>
<path d="M867.73 123.25A25.20 25.20 0 0 1 851.52 125.82" fill="none" stroke="#D9983E" stroke-width="0.55"/>
<rect x="869.75" y="80.81" width="2.6" height="1.6" fill="#fff" stroke="#6BBF3A" stroke-width="0.4" transform="rotate(40 871.05 81.61)"/>
<path d="M879.95 100.58A24.05 24.05 0 0 0 873.49 84.60L873.69 84.41L871.67 84.67L871.32 86.62L871.51 86.44A21.35 21.35 0 0 1 877.25 100.63Z" fill="#8E1B5C"/>
<path d="M870.23 84.51A21.85 21.85 0 0 0 869.05 83.55L869.13 83.45L867.75 83.42L868.19 84.69L868.27 84.59A20.55 20.55 0 0 1 869.38 85.49Z" fill="#fff" stroke="#666" stroke-width="0.3"/>
<path d="M879.27 104.28A23.60 23.60 0 0 1 860.81 124.08L860.88 124.42L858.95 122.69L860.03 120.43L860.10 120.76A20.20 20.20 0 0 0 875.90 103.81Z" fill="#FF00FF"/>
<path d="M833.81 91.62A24.00 24.00 0 0 1 840.15 82.89L839.92 82.62L843.49 82.60L842.75 85.88L842.52 85.60A20.40 20.40 0 0 0 837.12 93.03Z" fill="#C6F2C6" stroke="#A2D0A2" stroke-width="0.35"/>
<path d="M-3.4 -1.3H1.2V-2.1L3.6 0L1.2 2.1V1.3H-3.4Z" fill="#FFF200" stroke="#D8CC00" stroke-width="0.25" transform="translate(848.67 78.75) rotate(-22)"/>
<text transform="translate(855.90 99.70) scale(0.25)" class="sa" font-size="13.60" text-anchor="middle" font-weight="bold">pHT43-bglP</text>
<text transform="translate(855.90 102.60) scale(0.25)" class="sa" font-size="9.20" text-anchor="middle" style="fill:#777">9317 bp</text>
<text transform="translate(971.28 57.95) scale(0.25)" class="sa" font-size="10.4" fill="#000" textLength="59.5" lengthAdjust="spacingAndGlyphs"><tspan fill="#666">(9167) </tspan><tspan font-weight="bold">SphI</tspan></text>
<path d="M986.95 57.05L986.00 69.85L986.16 72.85" fill="none" stroke="#9a9a9a" stroke-width="0.3"/>
<text transform="translate(990.51 57.95) scale(0.25)" class="sa" font-size="10.4" fill="#000" textLength="41.0" lengthAdjust="spacingAndGlyphs"><tspan font-weight="bold">AflII</tspan><tspan fill="#666"> (1)</tspan></text>
<path d="M989.71 57.05L989.17 69.82L989.06 72.82" fill="none" stroke="#9a9a9a" stroke-width="0.3"/>
<text transform="translate(962.31 62.05) scale(0.25)" class="sa" font-size="10.4" fill="#000" textLength="54.4" lengthAdjust="spacingAndGlyphs"><tspan fill="#666">(8982) </tspan><tspan font-weight="bold">SrfI</tspan></text>
<path d="M976.70 61.15L981.60 70.35L982.12 73.31" fill="none" stroke="#9a9a9a" stroke-width="0.3"/>
<text transform="translate(947.69 72.82) scale(0.25)" class="sa" font-size="10.4" fill="#000" textLength="58.5" lengthAdjust="spacingAndGlyphs"><tspan fill="#666">(8575) </tspan><tspan font-weight="bold">AfeI</tspan></text>
<path d="M963.11 71.92L962.23 80.43L964.35 82.55" fill="none" stroke="#9a9a9a" stroke-width="0.3"/>
<text transform="translate(945.64 75.90) scale(0.25)" class="sa" font-size="10.4" fill="#000" textLength="61.5" lengthAdjust="spacingAndGlyphs"><tspan fill="#666">(8556) </tspan><tspan font-weight="bold">BsaI</tspan></text>
<path d="M961.83 75.00L960.92 81.81L963.15 83.82" fill="none" stroke="#9a9a9a" stroke-width="0.3"/>
<text transform="translate(920.00 97.69) scale(0.25)" class="sa" font-size="10.4" fill="#000" textLength="121.0" lengthAdjust="spacingAndGlyphs"><tspan fill="#666">(7726) </tspan><tspan font-weight="bold">PaeR7I - TliI - XhoI</tspan></text>
<path d="M951.06 96.79L951.95 101.05L954.92 101.47" fill="none" stroke="#9a9a9a" stroke-width="0.3"/>
<text transform="translate(937.95 129.75) scale(0.25)" class="sa" font-size="10.4" fill="#888" textLength="66.7" lengthAdjust="spacingAndGlyphs"><tspan fill="#666">(6354) </tspan><tspan font-weight="bold">EcoO109I</tspan></text>
<path d="M955.42 128.85L955.85 123.14L958.50 121.73" fill="none" stroke="#9a9a9a" stroke-width="0.3"/>
<text transform="translate(943.08 132.31) scale(0.25)" class="sa" font-size="10.4" fill="#000" textLength="56.4" lengthAdjust="spacingAndGlyphs"><tspan fill="#666">(6309) </tspan><tspan font-weight="bold">SalI</tspan></text>
<path d="M957.98 131.41L956.78 124.80L959.36 123.25" fill="none" stroke="#9a9a9a" stroke-width="0.3"/>
<text transform="translate(952.05 143.34) scale(0.25)" class="sa" font-size="10.4" fill="#000" textLength="54.4" lengthAdjust="spacingAndGlyphs"><tspan fill="#666">(5587) </tspan><tspan font-weight="bold">MluI</tspan></text>
<path d="M966.44 142.44L967.60 136.19L969.28 133.71" fill="none" stroke="#9a9a9a" stroke-width="0.3"/>
<text transform="translate(1012.31 71.54) scale(0.25)" class="sa" font-size="10.4" fill="#000" textLength="61.5" lengthAdjust="spacingAndGlyphs"><tspan font-weight="bold">BlnI</tspan><tspan fill="#666"> (1040)</tspan></text>
<path d="M1011.51 70.64L1012.66 79.55L1010.61 81.75" fill="none" stroke="#9a9a9a" stroke-width="0.3"/>
<text transform="translate(1014.87 75.39) scale(0.25)" class="sa" font-size="10.4" fill="#000" textLength="61.5" lengthAdjust="spacingAndGlyphs"><tspan font-weight="bold">BstII</tspan><tspan fill="#666"> (1084)</tspan></text>
<path d="M1014.07 74.49L1014.01 80.88L1011.85 82.97" fill="none" stroke="#9a9a9a" stroke-width="0.3"/>
<text transform="translate(1017.44 79.23) scale(0.25)" class="sa" font-size="10.4" fill="#000" textLength="56.4" lengthAdjust="spacingAndGlyphs"><tspan font-weight="bold">SacI</tspan><tspan fill="#666"> (1128)</tspan></text>
<path d="M1016.64 78.33L1016.50 83.75L1014.14 85.60" fill="none" stroke="#9a9a9a" stroke-width="0.3"/>
<text transform="translate(1020.00 81.80) scale(0.25)" class="sa" font-size="10.4" fill="#888" textLength="51.3" lengthAdjust="spacingAndGlyphs"><tspan font-weight="bold">BstAPI</tspan><tspan fill="#666"> (1270)</tspan></text>
<path d="M1019.20 80.90L1017.27 84.76L1014.84 86.53" fill="none" stroke="#9a9a9a" stroke-width="0.3"/>
<text transform="translate(1018.72 84.36) scale(0.25)" class="sa" font-size="10.4" fill="#000" textLength="56.4" lengthAdjust="spacingAndGlyphs"><tspan font-weight="bold">BtgI</tspan><tspan fill="#666"> (1391)</tspan></text>
<path d="M1017.92 83.46L1017.99 85.80L1015.51 87.48" fill="none" stroke="#9a9a9a" stroke-width="0.3"/>
<text transform="translate(1021.28 86.93) scale(0.25)" class="sa" font-size="10.4" fill="#000" textLength="61.5" lengthAdjust="spacingAndGlyphs"><tspan font-weight="bold">PfoI</tspan><tspan fill="#666"> (1432)</tspan></text>
<path d="M1020.48 86.03L1018.68 86.86L1016.14 88.45" fill="none" stroke="#9a9a9a" stroke-width="0.3"/>
<text transform="translate(1023.85 91.54) scale(0.25)" class="sa" font-size="10.4" fill="#000" textLength="71.8" lengthAdjust="spacingAndGlyphs"><tspan font-weight="bold">Bsp120I</tspan><tspan fill="#666"> (1860)</tspan></text>
<path d="M1023.05 90.64L1022.01 93.68L1019.19 94.71" fill="none" stroke="#9a9a9a" stroke-width="0.3"/>
<text transform="translate(1025.13 94.11) scale(0.25)" class="sa" font-size="10.4" fill="#000" textLength="51.3" lengthAdjust="spacingAndGlyphs"><tspan font-weight="bold">ApaI</tspan><tspan fill="#666"> (1864)</tspan></text>
<path d="M1024.33 93.21L1022.42 94.88L1019.57 95.81" fill="none" stroke="#9a9a9a" stroke-width="0.3"/>
<text transform="translate(1025.13 96.67) scale(0.25)" class="sa" font-size="10.4" fill="#000" textLength="66.7" lengthAdjust="spacingAndGlyphs"><tspan font-weight="bold">KflI</tspan><tspan fill="#666"> (1911)</tspan></text>
<path d="M1024.33 95.77L1022.79 96.09L1019.91 96.92" fill="none" stroke="#9a9a9a" stroke-width="0.3"/>
<text transform="translate(1026.41 111.28) scale(0.25)" class="sa" font-size="10.4" fill="#000" textLength="102.6" lengthAdjust="spacingAndGlyphs"><tspan font-weight="bold">Acc65I - BsaBI</tspan><tspan fill="#666"> (2214)</tspan></text>
<path d="M1025.61 110.38L1024.06 109.26L1021.07 109.00" fill="none" stroke="#9a9a9a" stroke-width="0.3"/>
<text transform="translate(1026.41 113.85) scale(0.25)" class="sa" font-size="10.4" fill="#000" textLength="56.4" lengthAdjust="spacingAndGlyphs"><tspan font-weight="bold">Acc65I</tspan><tspan fill="#666"> (2218)</tspan></text>
<path d="M1025.61 112.95L1023.93 110.52L1020.95 110.16" fill="none" stroke="#9a9a9a" stroke-width="0.3"/>
<text transform="translate(1025.64 116.41) scale(0.25)" class="sa" font-size="10.4" fill="#000" textLength="54.4" lengthAdjust="spacingAndGlyphs"><tspan font-weight="bold">KpnI</tspan><tspan fill="#666"> (2367)</tspan></text>
<path d="M1024.84 115.51L1023.75 111.78L1020.79 111.31" fill="none" stroke="#9a9a9a" stroke-width="0.3"/>
<text transform="translate(1021.28 127.95) scale(0.25)" class="sa" font-size="10.4" fill="#000" textLength="66.7" lengthAdjust="spacingAndGlyphs"><tspan font-weight="bold">BsaBI</tspan><tspan fill="#666"> (3021)</tspan></text>
<path d="M1020.48 127.05L1019.34 124.25L1016.74 122.75" fill="none" stroke="#9a9a9a" stroke-width="0.3"/>
<text transform="translate(1020.00 132.31) scale(0.25)" class="sa" font-size="10.4" fill="#000" textLength="61.5" lengthAdjust="spacingAndGlyphs"><tspan font-weight="bold">BspEI</tspan><tspan fill="#666"> (3277)</tspan></text>
<path d="M1019.20 131.41L1016.50 128.45L1014.14 126.60" fill="none" stroke="#9a9a9a" stroke-width="0.3"/>
<text transform="translate(1018.72 134.87) scale(0.25)" class="sa" font-size="10.4" fill="#000" textLength="56.4" lengthAdjust="spacingAndGlyphs"><tspan font-weight="bold">BsrGI</tspan><tspan fill="#666"> (3312)</tspan></text>
<path d="M1017.92 133.97L1015.30 129.91L1013.03 127.95" fill="none" stroke="#9a9a9a" stroke-width="0.3"/>
<text transform="translate(1016.15 137.44) scale(0.25)" class="sa" font-size="10.4" fill="#000" textLength="56.4" lengthAdjust="spacingAndGlyphs"><tspan font-weight="bold">StuI</tspan><tspan fill="#666"> (3630)</tspan></text>
<path d="M1015.35 136.54L1013.57 131.77L1011.45 129.65" fill="none" stroke="#9a9a9a" stroke-width="0.3"/>
<text transform="translate(1012.31 141.28) scale(0.25)" class="sa" font-size="10.4" fill="#888" textLength="66.7" lengthAdjust="spacingAndGlyphs"><tspan font-weight="bold">BspQI*</tspan><tspan fill="#666"> (3730)</tspan></text>
<path d="M1011.51 140.38L1008.72 135.84L1007.00 133.38" fill="none" stroke="#9a9a9a" stroke-width="0.3"/>
<text transform="translate(1008.46 145.90) scale(0.25)" class="sa" font-size="10.4" fill="#000" textLength="102.6" lengthAdjust="spacingAndGlyphs"><tspan font-weight="bold">XbaI - PaeR7I</tspan><tspan fill="#666"> (3812)</tspan></text>
<path d="M1007.66 145.00L1002.66 139.26L1001.44 136.52" fill="none" stroke="#9a9a9a" stroke-width="0.3"/>
<text transform="translate(1004.62 148.46) scale(0.25)" class="sa" font-size="10.4" fill="#000" textLength="49.2" lengthAdjust="spacingAndGlyphs"><tspan font-weight="bold">AatII</tspan><tspan fill="#666"> (3929)</tspan></text>
<path d="M1003.82 147.56L1000.32 140.21L999.29 137.39" fill="none" stroke="#9a9a9a" stroke-width="0.3"/>
<text transform="translate(998.72 151.03) scale(0.25)" class="sa" font-size="10.4" fill="#000" textLength="64.6" lengthAdjust="spacingAndGlyphs"><tspan font-weight="bold">Tsp45I</tspan><tspan fill="#666"> (4064)</tspan></text>
<path d="M997.92 150.13L997.91 140.99L997.08 138.11" fill="none" stroke="#9a9a9a" stroke-width="0.3"/>
<circle cx="987.90" cy="106.10" r="33.30" fill="none" stroke="#111" stroke-width="0.9"/>
<rect x="975.39" y="75.47" width="3.2" height="1.3" fill="#fff" stroke="#555" stroke-width="0.3" transform="rotate(-20.0 976.99 76.12)"/>
<rect x="984.63" y="73.59" width="3.2" height="1.3" fill="#fff" stroke="#555" stroke-width="0.3" transform="rotate(-3.0 986.23 74.24)"/>
<rect x="1010.74" y="84.95" width="3.2" height="1.3" fill="#fff" stroke="#555" stroke-width="0.3" transform="rotate(50.0 1012.34 85.60)"/>
<rect x="1018.20" y="105.45" width="3.2" height="1.3" fill="#fff" stroke="#555" stroke-width="0.3" transform="rotate(90.0 1019.80 106.10)"/>
<rect x="1015.88" y="117.40" width="3.2" height="1.3" fill="#fff" stroke="#555" stroke-width="0.3" transform="rotate(112.0 1017.48 118.05)"/>
<rect x="1004.60" y="131.58" width="3.2" height="1.3" fill="#fff" stroke="#555" stroke-width="0.3" transform="rotate(145.0 1006.20 132.23)"/>
<rect x="985.19" y="137.33" width="3.2" height="1.3" fill="#fff" stroke="#555" stroke-width="0.3" transform="rotate(182.0 986.79 137.98)"/>
<rect x="963.74" y="128.01" width="3.2" height="1.3" fill="#fff" stroke="#555" stroke-width="0.3" transform="rotate(225.0 965.34 128.66)"/>
<rect x="954.40" y="105.45" width="3.2" height="1.3" fill="#fff" stroke="#555" stroke-width="0.3" transform="rotate(270.0 956.00 106.10)"/>
<rect x="970.35" y="77.82" width="3.2" height="1.3" fill="#fff" stroke="#555" stroke-width="0.3" transform="rotate(330.0 971.95 78.47)"/>
<path d="M980.84 134.43A29.20 29.20 0 0 1 972.86 131.13" fill="none" stroke="#D9983E" stroke-width="0.65"/>
<path d="M971.15 130.02A29.20 29.20 0 0 1 959.83 98.05" fill="none" stroke="#D9983E" stroke-width="0.65"/>
<path d="M961.66 93.30A29.20 29.20 0 0 1 971.57 81.89" fill="none" stroke="#D9983E" stroke-width="0.65"/>
<path d="M961.63 110.26A26.60 26.60 0 0 1 961.88 100.57" fill="none" stroke="#86CC52" stroke-width="0.6"/>
<path d="M1000.29 82.79A26.40 26.40 0 0 1 1014.04 102.43" fill="none" stroke="#8CD050" stroke-width="0.55"/>
<path d="M984.93 77.86A28.40 28.40 0 0 1 1000.79 80.80" fill="none" stroke="#8CD050" stroke-width="0.55"/>
<path d="M1004.15 126.90A26.40 26.40 0 0 1 1000.29 129.41" fill="none" stroke="#8CD050" stroke-width="0.55"/>
<path d="M970.86 115.16A19.30 19.30 0 0 1 970.70 97.34" fill="none" stroke="#666" stroke-width="0.4"/>
<path d="M1002.56 94.65A18.60 18.60 0 0 1 997.76 121.87" fill="none" stroke="#777" stroke-width="0.4"/>
<path d="M999.73 128.35A25.20 25.20 0 0 1 983.52 130.92" fill="none" stroke="#D9983E" stroke-width="0.55"/>
<rect x="1001.75" y="85.91" width="2.6" height="1.6" fill="#fff" stroke="#6BBF3A" stroke-width="0.4" transform="rotate(40 1003.05 86.71)"/>
<path d="M1011.95 105.68A24.05 24.05 0 0 0 1005.49 89.70L1005.69 89.51L1003.67 89.77L1003.32 91.72L1003.51 91.54A21.35 21.35 0 0 1 1009.25 105.73Z" fill="#8E1B5C"/>
<path d="M1002.23 89.61A21.85 21.85 0 0 0 1001.05 88.65L1001.13 88.55L999.75 88.52L1000.19 89.79L1000.27 89.69A20.55 20.55 0 0 1 1001.38 90.59Z" fill="#fff" stroke="#666" stroke-width="0.3"/>
<path d="M1010.59 112.61A23.60 23.60 0 0 1 995.97 128.28L996.09 128.60L993.94 127.15L994.69 124.76L994.81 125.08A20.20 20.20 0 0 0 1007.32 111.67Z" fill="#FF9800"/>
<path d="M965.81 96.72A24.00 24.00 0 0 1 972.15 87.99L971.92 87.72L975.49 87.70L974.75 90.98L974.52 90.70A20.40 20.40 0 0 0 969.12 98.13Z" fill="#C6F2C6" stroke="#A2D0A2" stroke-width="0.35"/>
<path d="M-3.4 -1.3H1.2V-2.1L3.6 0L1.2 2.1V1.3H-3.4Z" fill="#FFF200" stroke="#D8CC00" stroke-width="0.25" transform="translate(980.67 83.85) rotate(-22)"/>
<text transform="translate(987.90 104.80) scale(0.25)" class="sa" font-size="13.60" text-anchor="middle" font-weight="bold">pHT43-bglH</text>
<text transform="translate(987.90 107.70) scale(0.25)" class="sa" font-size="9.20" text-anchor="middle" style="fill:#777">9162 bp</text>
<rect x="899" y="52.9" width="8" height="0.7" fill="#BFD4EE"/><rect x="908" y="52.9" width="8" height="0.7" fill="#EEC8D8"/><rect x="1045.5" y="52.8" width="6.8" height="0.8" fill="#DDD"/>
</g>
<!-- hplc -->
<g filter="url(#b3)">
<rect x="467.61" y="224.40" width="82.91" height="14.87" fill="#fff" stroke="#8a8a8a" stroke-width="0.45"/>
<line x1="467.95" y1="238.76" x2="550.17" y2="238.76" stroke="#444" stroke-width="0.3" />
<path d="M470.10 238.76L470.36 230.21L470.67 230.21L471.06 238.76Z" fill="#222" fill-opacity="0.85"/>
<path d="M471.47 238.76L471.73 224.06L472.03 224.06L472.43 238.76Z" fill="#222" fill-opacity="0.85"/>
<path d="M483.26 238.76L483.52 232.78L483.83 232.78L484.22 238.76Z" fill="#222" fill-opacity="0.85"/>
<path d="M490.96 238.76L491.21 228.16L491.52 228.16L491.91 238.76Z" fill="#222" fill-opacity="0.85"/>
<path d="M498.31 238.76L498.56 229.87L498.87 229.87L499.26 238.76Z" fill="#222" fill-opacity="0.85"/>
<path d="M500.02 238.76L500.27 233.12L500.58 233.12L500.97 238.76Z" fill="#222" fill-opacity="0.85"/>
<path d="M506.00 238.76L506.26 233.12L506.56 233.12L506.96 238.76Z" fill="#222" fill-opacity="0.85"/>
<path d="M511.98 238.76L512.24 233.12L512.55 233.12L512.94 238.76Z" fill="#222" fill-opacity="0.85"/>
<path d="M514.55 238.76L514.80 235.34L515.11 235.34L515.50 238.76Z" fill="#222" fill-opacity="0.85"/>
<path d="M518.82 238.76L519.08 233.12L519.38 233.12L519.78 238.76Z" fill="#222" fill-opacity="0.85"/>
<path d="M521.90 238.76L522.15 236.37L522.46 236.37L522.85 238.76Z" fill="#222" fill-opacity="0.85"/>
<path d="M526.17 238.76L526.43 233.12L526.74 233.12L527.13 238.76Z" fill="#222" fill-opacity="0.85"/>
<path d="M529.59 238.76L529.85 233.12L530.15 233.12L530.55 238.76Z" fill="#222" fill-opacity="0.85"/>
<path d="M531.64 238.76L531.90 233.12L532.21 233.12L532.60 238.76Z" fill="#222" fill-opacity="0.85"/>
<path d="M540.53 238.76L540.79 234.49L541.09 234.49L541.49 238.76Z" fill="#222" fill-opacity="0.85"/>
<line x1="466.81" y1="239.27" x2="467.61" y2="239.27" stroke="#555" stroke-width="0.3" />
<text transform="translate(466.41 239.97) scale(0.25)" class="sa" font-size="7.60" text-anchor="end" fill-opacity="0.8">0</text>
<line x1="466.81" y1="234.40" x2="467.61" y2="234.40" stroke="#555" stroke-width="0.3" />
<text transform="translate(466.41 235.10) scale(0.25)" class="sa" font-size="7.60" text-anchor="end" fill-opacity="0.8">50</text>
<line x1="466.81" y1="229.52" x2="467.61" y2="229.52" stroke="#555" stroke-width="0.3" />
<text transform="translate(466.41 230.22) scale(0.25)" class="sa" font-size="7.60" text-anchor="end" fill-opacity="0.8">100</text>
<line x1="466.81" y1="224.65" x2="467.61" y2="224.65" stroke="#555" stroke-width="0.3" />
<text transform="translate(466.41 225.35) scale(0.25)" class="sa" font-size="7.60" text-anchor="end" fill-opacity="0.8">150</text>
<line x1="467.61" y1="239.27" x2="467.61" y2="240.07" stroke="#555" stroke-width="0.3" />
<text transform="translate(467.61 241.87) scale(0.25)" class="sa" font-size="7.60" text-anchor="middle" fill-opacity="0.8">0</text>
<line x1="484.19" y1="239.27" x2="484.19" y2="240.07" stroke="#555" stroke-width="0.3" />
<text transform="translate(484.19 241.87) scale(0.25)" class="sa" font-size="7.60" text-anchor="middle" fill-opacity="0.8">10</text>
<line x1="500.77" y1="239.27" x2="500.77" y2="240.07" stroke="#555" stroke-width="0.3" />
<text transform="translate(500.77 241.87) scale(0.25)" class="sa" font-size="7.60" text-anchor="middle" fill-opacity="0.8">20</text>
<line x1="517.35" y1="239.27" x2="517.35" y2="240.07" stroke="#555" stroke-width="0.3" />
<text transform="translate(517.35 241.87) scale(0.25)" class="sa" font-size="7.60" text-anchor="middle" fill-opacity="0.8">30</text>
<line x1="533.93" y1="239.27" x2="533.93" y2="240.07" stroke="#555" stroke-width="0.3" />
<text transform="translate(533.93 241.87) scale(0.25)" class="sa" font-size="7.60" text-anchor="middle" fill-opacity="0.8">40</text>
<line x1="550.51" y1="239.27" x2="550.51" y2="240.07" stroke="#555" stroke-width="0.3" />
<text transform="translate(550.51 241.87) scale(0.25)" class="sa" font-size="7.60" text-anchor="middle" fill-opacity="0.8">50</text>
<text transform="translate(549.01 227.60) scale(0.25)" class="sa" font-size="8.00" text-anchor="end" fill-opacity="0.85">Standard</text>
<rect x="467.61" y="243.21" width="82.91" height="14.87" fill="#fff" stroke="#8a8a8a" stroke-width="0.45"/>
<line x1="467.95" y1="257.56" x2="550.17" y2="257.56" stroke="#444" stroke-width="0.3" />
<path d="M470.10 257.56L470.36 249.02L470.67 249.02L471.06 257.56Z" fill="#222" fill-opacity="0.85"/>
<path d="M471.47 257.56L471.73 242.86L472.03 242.86L472.43 257.56Z" fill="#222" fill-opacity="0.85"/>
<path d="M483.26 257.56L483.52 245.94L483.83 245.94L484.22 257.56Z" fill="#222" fill-opacity="0.85"/>
<path d="M490.96 257.56L491.21 243.55L491.52 243.55L491.91 257.56Z" fill="#222" fill-opacity="0.85"/>
<path d="M498.31 257.56L498.56 255.17L498.87 255.17L499.26 257.56Z" fill="#222" fill-opacity="0.85"/>
<path d="M506.85 257.56L507.11 255.85L507.42 255.85L507.81 257.56Z" fill="#222" fill-opacity="0.85"/>
<path d="M518.82 257.56L519.08 254.15L519.38 254.15L519.78 257.56Z" fill="#222" fill-opacity="0.85"/>
<path d="M526.17 257.56L526.43 255.51L526.74 255.51L527.13 257.56Z" fill="#222" fill-opacity="0.85"/>
<path d="M531.64 257.56L531.90 256.03L532.21 256.03L532.60 257.56Z" fill="#222" fill-opacity="0.85"/>
<line x1="466.81" y1="258.08" x2="467.61" y2="258.08" stroke="#555" stroke-width="0.3" />
<text transform="translate(466.41 258.78) scale(0.25)" class="sa" font-size="7.60" text-anchor="end" fill-opacity="0.8">0</text>
<line x1="466.81" y1="253.20" x2="467.61" y2="253.20" stroke="#555" stroke-width="0.3" />
<text transform="translate(466.41 253.90) scale(0.25)" class="sa" font-size="7.60" text-anchor="end" fill-opacity="0.8">50</text>
<line x1="466.81" y1="248.32" x2="467.61" y2="248.32" stroke="#555" stroke-width="0.3" />
<text transform="translate(466.41 249.02) scale(0.25)" class="sa" font-size="7.60" text-anchor="end" fill-opacity="0.8">100</text>
<line x1="466.81" y1="243.45" x2="467.61" y2="243.45" stroke="#555" stroke-width="0.3" />
<text transform="translate(466.41 244.15) scale(0.25)" class="sa" font-size="7.60" text-anchor="end" fill-opacity="0.8">150</text>
<line x1="467.61" y1="258.08" x2="467.61" y2="258.88" stroke="#555" stroke-width="0.3" />
<text transform="translate(467.61 260.68) scale(0.25)" class="sa" font-size="7.60" text-anchor="middle" fill-opacity="0.8">0</text>
<line x1="484.19" y1="258.08" x2="484.19" y2="258.88" stroke="#555" stroke-width="0.3" />
<text transform="translate(484.19 260.68) scale(0.25)" class="sa" font-size="7.60" text-anchor="middle" fill-opacity="0.8">10</text>
<line x1="500.77" y1="258.08" x2="500.77" y2="258.88" stroke="#555" stroke-width="0.3" />
<text transform="translate(500.77 260.68) scale(0.25)" class="sa" font-size="7.60" text-anchor="middle" fill-opacity="0.8">20</text>
<line x1="517.35" y1="258.08" x2="517.35" y2="258.88" stroke="#555" stroke-width="0.3" />
<text transform="translate(517.35 260.68) scale(0.25)" class="sa" font-size="7.60" text-anchor="middle" fill-opacity="0.8">30</text>
<line x1="533.93" y1="258.08" x2="533.93" y2="258.88" stroke="#555" stroke-width="0.3" />
<text transform="translate(533.93 260.68) scale(0.25)" class="sa" font-size="7.60" text-anchor="middle" fill-opacity="0.8">40</text>
<line x1="550.51" y1="258.08" x2="550.51" y2="258.88" stroke="#555" stroke-width="0.3" />
<text transform="translate(550.51 260.68) scale(0.25)" class="sa" font-size="7.60" text-anchor="middle" fill-opacity="0.8">50</text>
<text transform="translate(549.01 246.41) scale(0.25)" class="sa" font-size="8.00" text-anchor="end" fill-opacity="0.85">EPS</text>
<rect x="467.61" y="262.01" width="82.91" height="14.87" fill="#fff" stroke="#8a8a8a" stroke-width="0.45"/>
<line x1="467.95" y1="276.37" x2="550.17" y2="276.37" stroke="#444" stroke-width="0.3" />
<path d="M470.10 276.37L470.36 267.82L470.67 267.82L471.06 276.37Z" fill="#222" fill-opacity="0.85"/>
<path d="M471.47 276.37L471.73 261.67L472.03 261.67L472.43 276.37Z" fill="#222" fill-opacity="0.85"/>
<path d="M483.26 276.37L483.52 263.38L483.83 263.38L484.22 276.37Z" fill="#222" fill-opacity="0.85"/>
<path d="M490.96 276.37L491.21 269.53L491.52 269.53L491.91 276.37Z" fill="#222" fill-opacity="0.85"/>
<path d="M498.31 276.37L498.56 274.32L498.87 274.32L499.26 276.37Z" fill="#222" fill-opacity="0.85"/>
<path d="M505.66 276.37L505.91 275.51L506.22 275.51L506.62 276.37Z" fill="#222" fill-opacity="0.85"/>
<path d="M518.82 276.37L519.08 272.61L519.38 272.61L519.78 276.37Z" fill="#222" fill-opacity="0.85"/>
<path d="M526.17 276.37L526.43 274.66L526.74 274.66L527.13 276.37Z" fill="#222" fill-opacity="0.85"/>
<path d="M532.50 276.37L532.75 275.17L533.06 275.17L533.45 276.37Z" fill="#222" fill-opacity="0.85"/>
<line x1="466.81" y1="276.88" x2="467.61" y2="276.88" stroke="#555" stroke-width="0.3" />
<text transform="translate(466.41 277.58) scale(0.25)" class="sa" font-size="7.60" text-anchor="end" fill-opacity="0.8">0</text>
<line x1="466.81" y1="272.00" x2="467.61" y2="272.00" stroke="#555" stroke-width="0.3" />
<text transform="translate(466.41 272.70) scale(0.25)" class="sa" font-size="7.60" text-anchor="end" fill-opacity="0.8">50</text>
<line x1="466.81" y1="267.13" x2="467.61" y2="267.13" stroke="#555" stroke-width="0.3" />
<text transform="translate(466.41 267.83) scale(0.25)" class="sa" font-size="7.60" text-anchor="end" fill-opacity="0.8">100</text>
<line x1="466.81" y1="262.25" x2="467.61" y2="262.25" stroke="#555" stroke-width="0.3" />
<text transform="translate(466.41 262.95) scale(0.25)" class="sa" font-size="7.60" text-anchor="end" fill-opacity="0.8">150</text>
<line x1="467.61" y1="276.88" x2="467.61" y2="277.68" stroke="#555" stroke-width="0.3" />
<text transform="translate(467.61 279.48) scale(0.25)" class="sa" font-size="7.60" text-anchor="middle" fill-opacity="0.8">0</text>
<line x1="484.19" y1="276.88" x2="484.19" y2="277.68" stroke="#555" stroke-width="0.3" />
<text transform="translate(484.19 279.48) scale(0.25)" class="sa" font-size="7.60" text-anchor="middle" fill-opacity="0.8">10</text>
<line x1="500.77" y1="276.88" x2="500.77" y2="277.68" stroke="#555" stroke-width="0.3" />
<text transform="translate(500.77 279.48) scale(0.25)" class="sa" font-size="7.60" text-anchor="middle" fill-opacity="0.8">20</text>
<line x1="517.35" y1="276.88" x2="517.35" y2="277.68" stroke="#555" stroke-width="0.3" />
<text transform="translate(517.35 279.48) scale(0.25)" class="sa" font-size="7.60" text-anchor="middle" fill-opacity="0.8">30</text>
<line x1="533.93" y1="276.88" x2="533.93" y2="277.68" stroke="#555" stroke-width="0.3" />
<text transform="translate(533.93 279.48) scale(0.25)" class="sa" font-size="7.60" text-anchor="middle" fill-opacity="0.8">40</text>
<line x1="550.51" y1="276.88" x2="550.51" y2="277.68" stroke="#555" stroke-width="0.3" />
<text transform="translate(550.51 279.48) scale(0.25)" class="sa" font-size="7.60" text-anchor="middle" fill-opacity="0.8">50</text>
<text transform="translate(549.01 265.21) scale(0.25)" class="sa" font-size="8.00" text-anchor="end" fill-opacity="0.85">EPS</text>
<text transform="translate(508.97 285.43) scale(0.25)" class="se" font-size="10.00" text-anchor="middle" font-weight="bold" fill-opacity="0.8">Time (min)</text>
<text transform="translate(457.69 250.90) rotate(-90.0) scale(0.25)" class="se" font-size="10.00" text-anchor="middle" font-weight="bold">Signal strength</text>
</g>
<!-- ftir -->
<g filter="url(#b3)">
<rect x="592.22" y="224.40" width="86.67" height="47.86" fill="#fff" stroke="#8a8a8a" stroke-width="0.5"/>
<path d="M592.74 229.02C593.50 229.19 596.01 228.96 597.35 230.04C598.69 231.13 599.63 233.32 600.77 235.51C601.91 237.71 602.91 241.55 604.19 243.21C605.47 244.86 607.04 245.57 608.46 245.43C609.89 245.28 611.60 243.58 612.74 242.35C613.87 241.13 614.59 238.99 615.30 238.08C616.01 237.17 616.50 236.88 617.01 236.88C617.52 236.88 617.81 238.73 618.38 238.08C618.95 237.42 619.37 234.37 620.43 232.95C621.48 231.52 623.13 230.38 624.70 229.53C626.27 228.68 627.55 228.19 629.83 227.82C632.11 227.45 635.95 227.39 638.38 227.31C640.80 227.22 643.08 226.94 644.36 227.31C645.64 227.68 645.58 227.88 646.07 229.53C646.55 231.18 646.84 234.86 647.26 237.22C647.69 239.59 648.12 243.15 648.63 243.72C649.15 244.29 649.83 242.01 650.34 240.64C650.85 239.27 651.34 236.71 651.71 235.51C652.08 234.32 652.22 232.89 652.56 233.46C652.91 234.03 653.28 238.45 653.76 238.93C654.25 239.42 654.90 236.94 655.47 236.37C656.04 235.80 656.61 235.71 657.18 235.51C657.75 235.31 658.40 234.89 658.89 235.17C659.37 235.46 659.66 236.31 660.09 237.22C660.51 238.13 660.94 239.56 661.45 240.64C661.97 241.72 662.68 243.86 663.16 243.72C663.65 243.58 663.93 241.58 664.36 239.79C664.79 237.99 665.36 234.23 665.73 232.95C666.10 231.67 666.01 231.81 666.58 232.09C667.15 232.38 668.15 233.66 669.15 234.66C670.14 235.66 671.57 237.51 672.56 238.08C673.56 238.65 674.42 238.50 675.13 238.08C675.84 237.65 676.21 236.37 676.84 235.51C677.46 234.66 678.55 233.38 678.89 232.95" fill="none" stroke="#FF4040" stroke-width="0.5"/>
<path d="M592.74 254.32C593.50 254.54 596.01 254.40 597.35 255.68C598.69 256.97 599.63 259.96 600.77 262.01C601.91 264.06 602.91 266.71 604.19 267.99C605.47 269.27 607.04 269.84 608.46 269.70C609.89 269.56 611.60 268.42 612.74 267.14C613.87 265.85 614.67 263.06 615.30 262.01C615.93 260.95 615.98 260.53 616.50 260.81C617.01 261.10 617.72 264.09 618.38 263.72C619.03 263.35 619.37 260.30 620.43 258.59C621.48 256.88 623.13 254.74 624.70 253.46C626.27 252.18 627.55 251.32 629.83 250.90C632.11 250.47 635.95 250.98 638.38 250.90C640.80 250.81 643.08 250.10 644.36 250.38C645.64 250.67 645.58 251.52 646.07 252.61C646.55 253.69 646.84 254.89 647.26 256.88C647.69 258.87 648.12 263.86 648.63 264.57C649.15 265.28 649.83 262.44 650.34 261.15C650.85 259.87 651.34 257.74 651.71 256.88C652.08 256.03 652.22 255.17 652.56 256.03C652.91 256.88 653.36 260.58 653.76 262.01C654.16 263.43 654.53 264.57 654.96 264.57C655.38 264.57 655.81 262.52 656.32 262.01C656.84 261.50 657.46 261.70 658.03 261.50C658.60 261.30 659.26 260.30 659.74 260.81C660.23 261.32 660.37 263.23 660.94 264.57C661.51 265.91 662.51 268.70 663.16 268.85C663.82 268.99 664.39 266.94 664.87 265.43C665.36 263.92 665.64 260.93 666.07 259.79C666.50 258.65 666.78 258.42 667.44 258.59C668.09 258.76 669.15 260.10 670.00 260.81C670.85 261.52 671.71 262.38 672.56 262.86C673.42 263.35 674.42 263.86 675.13 263.72C675.84 263.58 676.21 262.49 676.84 262.01C677.46 261.52 678.55 261.01 678.89 260.81" fill="none" stroke="#222" stroke-width="0.5"/>
<text transform="translate(608.46 247.48) scale(0.25)" class="sa" font-size="7.20" text-anchor="middle" fill-opacity="0.75">3404.16</text>
<text transform="translate(619.91 240.98) scale(0.25)" class="sa" font-size="7.20" text-anchor="middle" fill-opacity="0.75">2931.79</text>
<text transform="translate(650.00 246.11) scale(0.25)" class="sa" font-size="7.20" text-anchor="middle" fill-opacity="0.75">1648.39</text>
<text transform="translate(653.76 244.06) scale(0.25)" class="sa" font-size="7.20" text-anchor="middle" fill-opacity="0.75">1543.46</text>
<text transform="translate(656.84 238.93) scale(0.25)" class="sa" font-size="7.20" text-anchor="middle" fill-opacity="0.75">1402.15</text>
<text transform="translate(656.84 241.50) scale(0.25)" class="sa" font-size="7.20" text-anchor="middle" fill-opacity="0.75">1384.04</text>
<text transform="translate(664.02 246.11) scale(0.25)" class="sa" font-size="7.20" text-anchor="middle" fill-opacity="0.75">1075.41</text>
<text transform="translate(668.29 238.08) scale(0.25)" class="sa" font-size="7.20" text-anchor="middle" fill-opacity="0.75">928.74</text>
<text transform="translate(674.62 240.98) scale(0.25)" class="sa" font-size="7.20" text-anchor="middle" fill-opacity="0.75">618.17</text>
<text transform="translate(612.74 271.75) scale(0.25)" class="sa" font-size="7.20" text-anchor="middle" fill-opacity="0.75">3394.47</text>
<text transform="translate(620.77 266.28) scale(0.25)" class="sa" font-size="7.20" text-anchor="middle" fill-opacity="0.75">2929.74</text>
<text transform="translate(650.00 267.65) scale(0.25)" class="sa" font-size="7.20" text-anchor="middle" fill-opacity="0.75">1651.39</text>
<text transform="translate(657.18 265.94) scale(0.25)" class="sa" font-size="7.20" text-anchor="middle" fill-opacity="0.75">1407.72</text>
<text transform="translate(666.07 271.07) scale(0.25)" class="sa" font-size="7.20" text-anchor="middle" fill-opacity="0.75">1078.11</text>
<text transform="translate(675.64 266.28) scale(0.25)" class="sa" font-size="7.20" text-anchor="middle" fill-opacity="0.75">618.59</text>
<text transform="translate(674.27 227.99) scale(0.25)" class="sa" font-size="7.60" text-anchor="middle" style="fill:#FF4040">EPS</text>
<text transform="translate(674.27 255.00) scale(0.25)" class="sa" font-size="7.60" text-anchor="middle">EPS</text>
<line x1="592.74" y1="272.26" x2="592.74" y2="272.96" stroke="#555" stroke-width="0.3" />
<text transform="translate(592.74 275.06) scale(0.25)" class="sa" font-size="7.60" text-anchor="middle" fill-opacity="0.8">4000</text>
<line x1="604.68" y1="272.26" x2="604.68" y2="272.96" stroke="#555" stroke-width="0.3" />
<text transform="translate(604.68 275.06) scale(0.25)" class="sa" font-size="7.60" text-anchor="middle" fill-opacity="0.8">3500</text>
<line x1="616.62" y1="272.26" x2="616.62" y2="272.96" stroke="#555" stroke-width="0.3" />
<text transform="translate(616.62 275.06) scale(0.25)" class="sa" font-size="7.60" text-anchor="middle" fill-opacity="0.8">3000</text>
<line x1="628.56" y1="272.26" x2="628.56" y2="272.96" stroke="#555" stroke-width="0.3" />
<text transform="translate(628.56 275.06) scale(0.25)" class="sa" font-size="7.60" text-anchor="middle" fill-opacity="0.8">2500</text>
<line x1="640.50" y1="272.26" x2="640.50" y2="272.96" stroke="#555" stroke-width="0.3" />
<text transform="translate(640.50 275.06) scale(0.25)" class="sa" font-size="7.60" text-anchor="middle" fill-opacity="0.8">2000</text>
<line x1="652.44" y1="272.26" x2="652.44" y2="272.96" stroke="#555" stroke-width="0.3" />
<text transform="translate(652.44 275.06) scale(0.25)" class="sa" font-size="7.60" text-anchor="middle" fill-opacity="0.8">1500</text>
<line x1="664.38" y1="272.26" x2="664.38" y2="272.96" stroke="#555" stroke-width="0.3" />
<text transform="translate(664.38 275.06) scale(0.25)" class="sa" font-size="7.60" text-anchor="middle" fill-opacity="0.8">1000</text>
<line x1="676.32" y1="272.26" x2="676.32" y2="272.96" stroke="#555" stroke-width="0.3" />
<text transform="translate(676.32 275.06) scale(0.25)" class="sa" font-size="7.60" text-anchor="middle" fill-opacity="0.8">500</text>
<text transform="translate(635.81 279.96) scale(0.25)" class="se" font-size="9.60" text-anchor="middle" font-weight="bold" fill-opacity="0.85">Wavenumber/cm⁻¹</text>
<text transform="translate(586.58 247.82) rotate(-90.0) scale(0.25)" class="se" font-size="9.20" text-anchor="middle" font-weight="bold" fill-opacity="0.85">T/%</text>
</g>
<!-- rheo -->
<g filter="url(#b3)">
<line x1="473.08" y1="298.55" x2="473.08" y2="357.52" stroke="#333" stroke-width="0.45" />
<line x1="473.08" y1="357.52" x2="554.27" y2="357.52" stroke="#333" stroke-width="0.45" />
<line x1="471.88" y1="298.89" x2="473.08" y2="298.89" stroke="#333" stroke-width="0.4" />
<text transform="translate(471.20 299.69) scale(0.25)" class="se" font-size="10.40" text-anchor="end" font-weight="bold">10³</text>
<line x1="471.88" y1="313.59" x2="473.08" y2="313.59" stroke="#333" stroke-width="0.4" />
<text transform="translate(471.20 314.39) scale(0.25)" class="se" font-size="10.40" text-anchor="end" font-weight="bold">10²</text>
<line x1="471.88" y1="328.29" x2="473.08" y2="328.29" stroke="#333" stroke-width="0.4" />
<text transform="translate(471.20 329.09) scale(0.25)" class="se" font-size="10.40" text-anchor="end" font-weight="bold">10¹</text>
<line x1="471.88" y1="342.99" x2="473.08" y2="342.99" stroke="#333" stroke-width="0.4" />
<text transform="translate(471.20 343.79) scale(0.25)" class="se" font-size="10.40" text-anchor="end" font-weight="bold">10⁰</text>
<line x1="471.88" y1="357.52" x2="473.08" y2="357.52" stroke="#333" stroke-width="0.4" />
<text transform="translate(471.20 358.32) scale(0.25)" class="se" font-size="10.40" text-anchor="end" font-weight="bold">10⁻¹</text>
<line x1="473.08" y1="357.52" x2="473.08" y2="358.72" stroke="#333" stroke-width="0.4" />
<text transform="translate(473.08 361.79) scale(0.25)" class="se" font-size="10.40" text-anchor="middle" font-weight="bold">10⁻¹</text>
<line x1="493.25" y1="357.52" x2="493.25" y2="358.72" stroke="#333" stroke-width="0.4" />
<text transform="translate(493.25 361.79) scale(0.25)" class="se" font-size="10.40" text-anchor="middle" font-weight="bold">10⁰</text>
<line x1="513.42" y1="357.52" x2="513.42" y2="358.72" stroke="#333" stroke-width="0.4" />
<text transform="translate(513.42 361.79) scale(0.25)" class="se" font-size="10.40" text-anchor="middle" font-weight="bold">10¹</text>
<line x1="533.59" y1="357.52" x2="533.59" y2="358.72" stroke="#333" stroke-width="0.4" />
<text transform="translate(533.59 361.79) scale(0.25)" class="se" font-size="10.40" text-anchor="middle" font-weight="bold">10²</text>
<line x1="553.76" y1="357.52" x2="553.76" y2="358.72" stroke="#333" stroke-width="0.4" />
<text transform="translate(553.76 361.79) scale(0.25)" class="se" font-size="10.40" text-anchor="middle" font-weight="bold">10³</text>
<path d="M473.08 304.38l1 1.7h-2z" fill="#4A5CFF"/>
<path d="M477.01 310.88l1 1.7h-2z" fill="#4A5CFF"/>
<path d="M481.11 314.30l1 1.7h-2z" fill="#4A5CFF"/>
<path d="M485.21 318.06l1 1.7h-2z" fill="#4A5CFF"/>
<path d="M489.32 318.40l1 1.7h-2z" fill="#4A5CFF"/>
<path d="M493.25 321.48l1 1.7h-2z" fill="#4A5CFF"/>
<path d="M497.35 326.95l1 1.7h-2z" fill="#4A5CFF"/>
<path d="M501.28 329.17l1 1.7h-2z" fill="#4A5CFF"/>
<path d="M505.38 333.44l1 1.7h-2z" fill="#4A5CFF"/>
<path d="M509.32 338.57l1 1.7h-2z" fill="#4A5CFF"/>
<path d="M513.42 339.09l1 1.7h-2z" fill="#4A5CFF"/>
<path d="M517.52 339.94l1 1.7h-2z" fill="#4A5CFF"/>
<path d="M521.45 340.11l1 1.7h-2z" fill="#4A5CFF"/>
<path d="M525.56 341.48l1 1.7h-2z" fill="#4A5CFF"/>
<path d="M529.49 341.65l1 1.7h-2z" fill="#4A5CFF"/>
<path d="M533.59 341.99l1 1.7h-2z" fill="#4A5CFF"/>
<path d="M537.69 342.33l1 1.7h-2z" fill="#4A5CFF"/>
<path d="M541.79 342.50l1 1.7h-2z" fill="#4A5CFF"/>
<path d="M545.73 342.68l1 1.7h-2z" fill="#4A5CFF"/>
<path d="M549.83 342.68l1 1.7h-2z" fill="#4A5CFF"/>
<path d="M553.76 343.02l1 1.7h-2z" fill="#4A5CFF"/>
<rect x="472.23" y="307.10" width="1.70" height="1.70" fill="#10C020" />
<rect x="476.16" y="310.86" width="1.70" height="1.70" fill="#10C020" />
<rect x="480.26" y="314.79" width="1.70" height="1.70" fill="#10C020" />
<rect x="484.36" y="321.12" width="1.70" height="1.70" fill="#10C020" />
<rect x="488.47" y="321.12" width="1.70" height="1.70" fill="#10C020" />
<rect x="492.40" y="326.76" width="1.70" height="1.70" fill="#10C020" />
<rect x="496.50" y="328.12" width="1.70" height="1.70" fill="#10C020" />
<rect x="500.43" y="334.79" width="1.70" height="1.70" fill="#10C020" />
<rect x="504.53" y="337.87" width="1.70" height="1.70" fill="#10C020" />
<rect x="508.47" y="339.06" width="1.70" height="1.70" fill="#10C020" />
<rect x="512.57" y="340.43" width="1.70" height="1.70" fill="#10C020" />
<rect x="516.67" y="341.29" width="1.70" height="1.70" fill="#10C020" />
<rect x="520.60" y="341.63" width="1.70" height="1.70" fill="#10C020" />
<rect x="524.71" y="343.00" width="1.70" height="1.70" fill="#10C020" />
<rect x="528.64" y="343.51" width="1.70" height="1.70" fill="#10C020" />
<rect x="532.74" y="343.51" width="1.70" height="1.70" fill="#10C020" />
<rect x="536.84" y="344.71" width="1.70" height="1.70" fill="#10C020" />
<rect x="540.94" y="344.88" width="1.70" height="1.70" fill="#10C020" />
<rect x="544.88" y="345.56" width="1.70" height="1.70" fill="#10C020" />
<rect x="548.98" y="345.56" width="1.70" height="1.70" fill="#10C020" />
<rect x="552.91" y="348.64" width="1.70" height="1.70" fill="#10C020" />
<circle cx="473.08" cy="312.22" r="0.95" fill="#FF2A2A"/>
<circle cx="477.01" cy="312.22" r="0.95" fill="#FF2A2A"/>
<circle cx="481.11" cy="315.98" r="0.95" fill="#FF2A2A"/>
<circle cx="485.21" cy="326.75" r="0.95" fill="#FF2A2A"/>
<circle cx="489.32" cy="329.32" r="0.95" fill="#FF2A2A"/>
<circle cx="493.25" cy="333.59" r="0.95" fill="#FF2A2A"/>
<circle cx="497.35" cy="335.30" r="0.95" fill="#FF2A2A"/>
<circle cx="501.28" cy="339.91" r="0.95" fill="#FF2A2A"/>
<circle cx="505.38" cy="340.60" r="0.95" fill="#FF2A2A"/>
<circle cx="509.32" cy="341.79" r="0.95" fill="#FF2A2A"/>
<circle cx="513.42" cy="342.99" r="0.95" fill="#FF2A2A"/>
<circle cx="517.52" cy="344.02" r="0.95" fill="#FF2A2A"/>
<circle cx="521.45" cy="344.36" r="0.95" fill="#FF2A2A"/>
<circle cx="525.56" cy="345.73" r="0.95" fill="#FF2A2A"/>
<circle cx="529.49" cy="346.75" r="0.95" fill="#FF2A2A"/>
<circle cx="533.59" cy="346.92" r="0.95" fill="#FF2A2A"/>
<circle cx="537.69" cy="346.92" r="0.95" fill="#FF2A2A"/>
<circle cx="541.79" cy="347.61" r="0.95" fill="#FF2A2A"/>
<circle cx="545.73" cy="349.15" r="0.95" fill="#FF2A2A"/>
<circle cx="549.83" cy="350.00" r="0.95" fill="#FF2A2A"/>
<circle cx="553.76" cy="350.51" r="0.95" fill="#FF2A2A"/>
<circle cx="543.68" cy="300.60" r="0.9" fill="#FF2A2A"/>
<rect x="542.83" y="305.05" width="1.70" height="1.70" fill="#10C020" />
<path d="M543.68 310.37l1 1.7h-2z" fill="#4A5CFF"/>
<text transform="translate(548.80 301.60) scale(0.25)" class="se" font-size="12.80">1%</text>
<text transform="translate(548.80 306.90) scale(0.25)" class="se" font-size="12.80">2%</text>
<text transform="translate(548.80 312.37) scale(0.25)" class="se" font-size="12.80">3%</text>
<text transform="translate(512.39 367.78) scale(0.25)" class="se" font-size="12.40" text-anchor="middle" font-weight="bold">Shear rate ( s⁻¹)</text>
<text transform="translate(463.33 328.46) rotate(-90.0) scale(0.25)" class="se" font-size="12.40" text-anchor="middle" font-weight="bold">Viscosity ( mPa· s)</text>
</g>
<!-- dpph -->
<g filter="url(#b3)">
<line x1="590.51" y1="304.02" x2="590.51" y2="358.89" stroke="#333" stroke-width="0.45" />
<line x1="590.51" y1="358.89" x2="673.76" y2="358.89" stroke="#333" stroke-width="0.45" />
<line x1="589.49" y1="358.89" x2="590.51" y2="358.89" stroke="#333" stroke-width="0.35" />
<text transform="translate(588.97 359.59) scale(0.25)" class="se" font-size="8.80" text-anchor="end" font-weight="bold">0</text>
<line x1="589.49" y1="353.44" x2="590.51" y2="353.44" stroke="#333" stroke-width="0.35" />
<text transform="translate(588.97 354.14) scale(0.25)" class="se" font-size="8.80" text-anchor="end" font-weight="bold">10</text>
<line x1="589.49" y1="347.98" x2="590.51" y2="347.98" stroke="#333" stroke-width="0.35" />
<text transform="translate(588.97 348.68) scale(0.25)" class="se" font-size="8.80" text-anchor="end" font-weight="bold">20</text>
<line x1="589.49" y1="342.53" x2="590.51" y2="342.53" stroke="#333" stroke-width="0.35" />
<text transform="translate(588.97 343.23) scale(0.25)" class="se" font-size="8.80" text-anchor="end" font-weight="bold">30</text>
<line x1="589.49" y1="337.08" x2="590.51" y2="337.08" stroke="#333" stroke-width="0.35" />
<text transform="translate(588.97 337.78) scale(0.25)" class="se" font-size="8.80" text-anchor="end" font-weight="bold">40</text>
<line x1="589.49" y1="331.62" x2="590.51" y2="331.62" stroke="#333" stroke-width="0.35" />
<text transform="translate(588.97 332.32) scale(0.25)" class="se" font-size="8.80" text-anchor="end" font-weight="bold">50</text>
<line x1="589.49" y1="326.17" x2="590.51" y2="326.17" stroke="#333" stroke-width="0.35" />
<text transform="translate(588.97 326.87) scale(0.25)" class="se" font-size="8.80" text-anchor="end" font-weight="bold">60</text>
<line x1="589.49" y1="320.72" x2="590.51" y2="320.72" stroke="#333" stroke-width="0.35" />
<text transform="translate(588.97 321.42) scale(0.25)" class="se" font-size="8.80" text-anchor="end" font-weight="bold">70</text>
<line x1="589.49" y1="315.26" x2="590.51" y2="315.26" stroke="#333" stroke-width="0.35" />
<text transform="translate(588.97 315.96) scale(0.25)" class="se" font-size="8.80" text-anchor="end" font-weight="bold">80</text>
<line x1="589.49" y1="309.81" x2="590.51" y2="309.81" stroke="#333" stroke-width="0.35" />
<text transform="translate(588.97 310.51) scale(0.25)" class="se" font-size="8.80" text-anchor="end" font-weight="bold">90</text>
<line x1="589.49" y1="304.36" x2="590.51" y2="304.36" stroke="#333" stroke-width="0.35" />
<text transform="translate(588.97 305.06) scale(0.25)" class="se" font-size="8.80" text-anchor="end" font-weight="bold">100</text>
<line x1="596.50" y1="358.89" x2="596.50" y2="359.91" stroke="#333" stroke-width="0.35" />
<text transform="translate(596.50 362.65) scale(0.25)" class="se" font-size="10.00" text-anchor="middle" font-weight="bold">0.5</text>
<line x1="614.44" y1="358.89" x2="614.44" y2="359.91" stroke="#333" stroke-width="0.35" />
<text transform="translate(614.44 362.65) scale(0.25)" class="se" font-size="10.00" text-anchor="middle" font-weight="bold">1</text>
<line x1="632.05" y1="358.89" x2="632.05" y2="359.91" stroke="#333" stroke-width="0.35" />
<text transform="translate(632.05 362.65) scale(0.25)" class="se" font-size="10.00" text-anchor="middle" font-weight="bold">2</text>
<line x1="649.83" y1="358.89" x2="649.83" y2="359.91" stroke="#333" stroke-width="0.35" />
<text transform="translate(649.83 362.65) scale(0.25)" class="se" font-size="10.00" text-anchor="middle" font-weight="bold">3</text>
<line x1="667.78" y1="358.89" x2="667.78" y2="359.91" stroke="#333" stroke-width="0.35" />
<text transform="translate(667.78 362.65) scale(0.25)" class="se" font-size="10.00" text-anchor="middle" font-weight="bold">5</text>
<path d="M596.50 313.42L614.44 310.85L632.05 309.66L649.83 308.29L667.78 308.12" fill="none" stroke="#222" stroke-width="0.36"/>
<rect x="595.90" y="312.82" width="1.20" height="1.20" fill="#222" />
<rect x="613.84" y="310.25" width="1.20" height="1.20" fill="#222" />
<rect x="631.45" y="309.06" width="1.20" height="1.20" fill="#222" />
<rect x="649.23" y="307.69" width="1.20" height="1.20" fill="#222" />
<rect x="667.18" y="307.52" width="1.20" height="1.20" fill="#222" />
<path d="M596.50 346.58L614.44 342.14L632.05 336.15L649.83 329.49L667.78 329.49" fill="none" stroke="#FF3030" stroke-width="0.36"/>
<rect x="595.90" y="345.98" width="1.20" height="1.20" fill="#FF3030" />
<rect x="613.84" y="341.54" width="1.20" height="1.20" fill="#FF3030" />
<line x1="614.44" y1="340.77" x2="614.44" y2="343.50" stroke="#FF3030" stroke-width="0.35" />
<rect x="631.45" y="335.55" width="1.20" height="1.20" fill="#FF3030" />
<line x1="632.05" y1="335.30" x2="632.05" y2="337.01" stroke="#FF3030" stroke-width="0.35" />
<rect x="649.23" y="328.89" width="1.20" height="1.20" fill="#FF3030" />
<rect x="667.18" y="328.89" width="1.20" height="1.20" fill="#FF3030" />
<path d="M596.50 347.44L614.44 345.90L632.05 344.36L649.83 342.14L667.78 337.35" fill="none" stroke="#2A7BFF" stroke-width="0.36"/>
<rect x="595.90" y="346.84" width="1.20" height="1.20" fill="#2A7BFF" />
<rect x="613.84" y="345.30" width="1.20" height="1.20" fill="#2A7BFF" />
<line x1="614.44" y1="345.04" x2="614.44" y2="346.75" stroke="#2A7BFF" stroke-width="0.35" />
<rect x="631.45" y="343.76" width="1.20" height="1.20" fill="#2A7BFF" />
<rect x="649.23" y="341.54" width="1.20" height="1.20" fill="#2A7BFF" />
<line x1="649.83" y1="340.77" x2="649.83" y2="343.50" stroke="#2A7BFF" stroke-width="0.35" />
<rect x="667.18" y="336.75" width="1.20" height="1.20" fill="#2A7BFF" />
<line x1="667.78" y1="335.64" x2="667.78" y2="339.06" stroke="#2A7BFF" stroke-width="0.35" />
<line x1="665.38" y1="297.35" x2="669.49" y2="297.35" stroke="#222" stroke-width="0.4" />
<rect x="666.84" y="296.75" width="1.20" height="1.20" fill="#222" />
<text transform="translate(670.85 298.15) scale(0.25)" class="se" font-size="9.20" font-weight="bold">Vc</text>
<line x1="665.38" y1="299.91" x2="669.49" y2="299.91" stroke="#FF3030" stroke-width="0.4" />
<rect x="666.84" y="299.31" width="1.20" height="1.20" fill="#FF3030" />
<text transform="translate(670.85 300.71) scale(0.25)" class="se" font-size="9.20" font-weight="bold">EPS</text>
<line x1="665.38" y1="302.48" x2="669.49" y2="302.48" stroke="#2A7BFF" stroke-width="0.4" />
<rect x="666.84" y="301.88" width="1.20" height="1.20" fill="#2A7BFF" />
<text transform="translate(670.85 303.28) scale(0.25)" class="se" font-size="9.20" font-weight="bold">PSP</text>
<text transform="translate(632.39 367.26) scale(0.25)" class="se" font-size="12.40" text-anchor="middle" font-weight="bold">Concentration  ( mg/mL)</text>
<text transform="translate(582.82 331.54) rotate(-90.0) scale(0.25)" class="se" font-size="11.00" text-anchor="middle" font-weight="bold">DPPH radicals scavenging rate(%)</text>
</g>
<!-- bar1 -->
<g filter="url(#b3)">
<rect x="810.00" y="297.18" width="17.18" height="31.03" fill="#FFFFE6" stroke="#111" stroke-width="0.6"/>
<line x1="818.59" y1="296.15" x2="818.59" y2="297.18" stroke="#111" stroke-width="0.5" />
<line x1="814.49" y1="296.15" x2="822.69" y2="296.15" stroke="#111" stroke-width="0.5" />
<rect x="845.13" y="281.28" width="16.92" height="46.92" fill="#FF9E9E" stroke="#111" stroke-width="0.6"/>
<line x1="853.59" y1="280.26" x2="853.59" y2="281.28" stroke="#111" stroke-width="0.5" />
<line x1="849.49" y1="280.26" x2="857.69" y2="280.26" stroke="#111" stroke-width="0.5" />
<rect x="879.49" y="262.82" width="17.18" height="65.38" fill="#FFE2DA" stroke="#111" stroke-width="0.6"/>
<line x1="888.08" y1="262.31" x2="888.08" y2="262.82" stroke="#111" stroke-width="0.5" />
<line x1="883.97" y1="262.31" x2="892.18" y2="262.31" stroke="#111" stroke-width="0.5" />
<line x1="792.05" y1="244.87" x2="792.05" y2="328.72" stroke="#000" stroke-width="1.05" />
<line x1="788.21" y1="328.21" x2="915.13" y2="328.21" stroke="#000" stroke-width="1.05" />
<line x1="787.69" y1="328.21" x2="792.05" y2="328.21" stroke="#111" stroke-width="0.7" />
<text transform="translate(787.18 329.61) scale(0.25)" class="se" font-size="20.40" text-anchor="end" font-weight="bold">0</text>
<line x1="787.69" y1="312.05" x2="792.05" y2="312.05" stroke="#111" stroke-width="0.7" />
<text transform="translate(787.18 313.45) scale(0.25)" class="se" font-size="20.40" text-anchor="end" font-weight="bold">100</text>
<line x1="787.69" y1="295.38" x2="792.05" y2="295.38" stroke="#111" stroke-width="0.7" />
<text transform="translate(787.18 296.78) scale(0.25)" class="se" font-size="20.40" text-anchor="end" font-weight="bold">200</text>
<line x1="787.69" y1="278.72" x2="792.05" y2="278.72" stroke="#111" stroke-width="0.7" />
<text transform="translate(787.18 280.12) scale(0.25)" class="se" font-size="20.40" text-anchor="end" font-weight="bold">300</text>
<line x1="787.69" y1="262.05" x2="792.05" y2="262.05" stroke="#111" stroke-width="0.7" />
<text transform="translate(787.18 263.45) scale(0.25)" class="se" font-size="20.40" text-anchor="end" font-weight="bold">400</text>
<line x1="787.69" y1="245.38" x2="792.05" y2="245.38" stroke="#111" stroke-width="0.7" />
<text transform="translate(787.18 246.78) scale(0.25)" class="se" font-size="20.40" text-anchor="end" font-weight="bold">500</text>
<path d="M810.00 250.51V247.44H888.21V250.51" fill="none" stroke="#000" stroke-width="0.7"/>
<path d="M811.28 267.18V264.10H853.59V267.18" fill="none" stroke="#000" stroke-width="0.7"/>
<text transform="translate(848.97 248.72) scale(0.25)" class="sa" font-size="42.00" text-anchor="middle" font-weight="bold">***</text>
<text transform="translate(832.56 265.38) scale(0.25)" class="sa" font-size="42.00" text-anchor="middle" font-weight="bold">***</text>
<text transform="translate(776.92 286.92) rotate(-90.0) scale(0.25)" class="se" font-size="19.60" text-anchor="middle" font-weight="bold">EPS production(mg/L)</text>
<text transform="translate(819.49 336.92) rotate(-45.0) scale(0.25)" class="se" font-size="20.80" text-anchor="end" font-weight="bold">HJ-1</text>
<text transform="translate(855.13 336.92) rotate(-45.0) scale(0.25)" class="se" font-size="20.80" text-anchor="end" font-weight="bold">HJ-1/pHT43-bglP</text>
<text transform="translate(889.49 336.92) rotate(-45.0) scale(0.25)" class="se" font-size="20.80" text-anchor="end" font-weight="bold">HJ-1/pHT43-bglH</text>
</g>
<!-- bar2 -->
<g filter="url(#b3)">
<rect x="948.72" y="312.05" width="16.67" height="3.08" fill="#FF9E9E" stroke="#111" stroke-width="0.6"/>
<line x1="957.05" y1="310.51" x2="957.05" y2="313.59" stroke="#111" stroke-width="0.5" />
<line x1="953.21" y1="310.51" x2="960.90" y2="310.51" stroke="#111" stroke-width="0.5" />
<line x1="953.21" y1="313.59" x2="960.90" y2="313.59" stroke="#111" stroke-width="0.5" />
<rect x="971.03" y="258.72" width="16.67" height="56.41" fill="#FF9E9E" stroke="#111" stroke-width="0.6"/>
<line x1="979.36" y1="254.62" x2="979.36" y2="262.82" stroke="#111" stroke-width="0.5" />
<line x1="975.51" y1="254.62" x2="983.21" y2="254.62" stroke="#111" stroke-width="0.5" />
<line x1="975.51" y1="262.82" x2="983.21" y2="262.82" stroke="#111" stroke-width="0.5" />
<rect x="1002.56" y="312.05" width="16.67" height="3.08" fill="#FFD6D6" stroke="#111" stroke-width="0.6"/>
<line x1="1010.90" y1="311.28" x2="1010.90" y2="312.82" stroke="#111" stroke-width="0.5" />
<line x1="1007.05" y1="311.28" x2="1014.74" y2="311.28" stroke="#111" stroke-width="0.5" />
<line x1="1007.05" y1="312.82" x2="1014.74" y2="312.82" stroke="#111" stroke-width="0.5" />
<rect x="1024.87" y="288.21" width="16.92" height="26.92" fill="#FFD6D6" stroke="#111" stroke-width="0.6"/>
<line x1="1033.33" y1="285.13" x2="1033.33" y2="291.28" stroke="#111" stroke-width="0.5" />
<line x1="1029.49" y1="285.13" x2="1037.18" y2="285.13" stroke="#111" stroke-width="0.5" />
<line x1="1029.49" y1="291.28" x2="1037.18" y2="291.28" stroke="#111" stroke-width="0.5" />
<line x1="937.95" y1="246.92" x2="937.95" y2="315.64" stroke="#000" stroke-width="1.05" />
<line x1="934.10" y1="315.13" x2="1052.56" y2="315.13" stroke="#000" stroke-width="1.05" />
<line x1="933.85" y1="315.13" x2="937.95" y2="315.13" stroke="#111" stroke-width="0.7" />
<text transform="translate(933.33 316.53) scale(0.25)" class="se" font-size="20.80" text-anchor="end" font-weight="bold">0</text>
<line x1="933.85" y1="298.21" x2="937.95" y2="298.21" stroke="#111" stroke-width="0.7" />
<text transform="translate(933.33 299.61) scale(0.25)" class="se" font-size="20.80" text-anchor="end" font-weight="bold">5</text>
<line x1="933.85" y1="281.28" x2="937.95" y2="281.28" stroke="#111" stroke-width="0.7" />
<text transform="translate(933.33 282.68) scale(0.25)" class="se" font-size="20.80" text-anchor="end" font-weight="bold">10</text>
<line x1="933.85" y1="264.36" x2="937.95" y2="264.36" stroke="#111" stroke-width="0.7" />
<text transform="translate(933.33 265.76) scale(0.25)" class="se" font-size="20.80" text-anchor="end" font-weight="bold">15</text>
<line x1="933.85" y1="247.44" x2="937.95" y2="247.44" stroke="#111" stroke-width="0.7" />
<text transform="translate(933.33 248.84) scale(0.25)" class="se" font-size="20.80" text-anchor="end" font-weight="bold">20</text>
<path d="M956.92 302.56V245.90H978.72V251.79" fill="none" stroke="#000" stroke-width="0.7"/>
<path d="M1011.03 304.36V276.67H1033.33V281.28" fill="none" stroke="#000" stroke-width="0.7"/>
<text transform="translate(967.18 247.18) scale(0.25)" class="sa" font-size="42.00" text-anchor="middle" font-weight="bold">***</text>
<text transform="translate(1021.79 277.69) scale(0.25)" class="sa" font-size="42.00" text-anchor="middle" font-weight="bold">***</text>
<rect x="1015.90" y="240.77" width="7.18" height="2.56" fill="#FF9E9E" stroke="#111" stroke-width="0.5"/>
<rect x="1015.90" y="250.00" width="7.18" height="2.56" fill="#FFD6D6" stroke="#111" stroke-width="0.5"/>
<text transform="translate(1026.92 243.33) scale(0.25)" class="se" font-size="22.40" font-style="italic">bglP</text>
<text transform="translate(1026.92 252.56) scale(0.25)" class="se" font-size="22.40" font-style="italic">bglH</text>
<text transform="translate(923.59 281.28) rotate(-90.0) scale(0.25)" class="se" font-size="20.80" text-anchor="middle" font-weight="bold">2-ΔΔCt</text>
<text transform="translate(956.92 324.36) rotate(-45.0) scale(0.25)" class="se" font-size="20.00" text-anchor="end" font-weight="bold">Wild strains</text>
<text transform="translate(978.46 324.36) rotate(-45.0) scale(0.25)" class="se" font-size="20.00" text-anchor="end" font-weight="bold">Overexpression strains</text>
<text transform="translate(1010.77 324.36) rotate(-45.0) scale(0.25)" class="se" font-size="20.00" text-anchor="end" font-weight="bold">Wild strains</text>
<text transform="translate(1032.56 324.36) rotate(-45.0) scale(0.25)" class="se" font-size="20.00" text-anchor="end" font-weight="bold">Overexpression strains</text>
</g>
</svg>
</body></html>
